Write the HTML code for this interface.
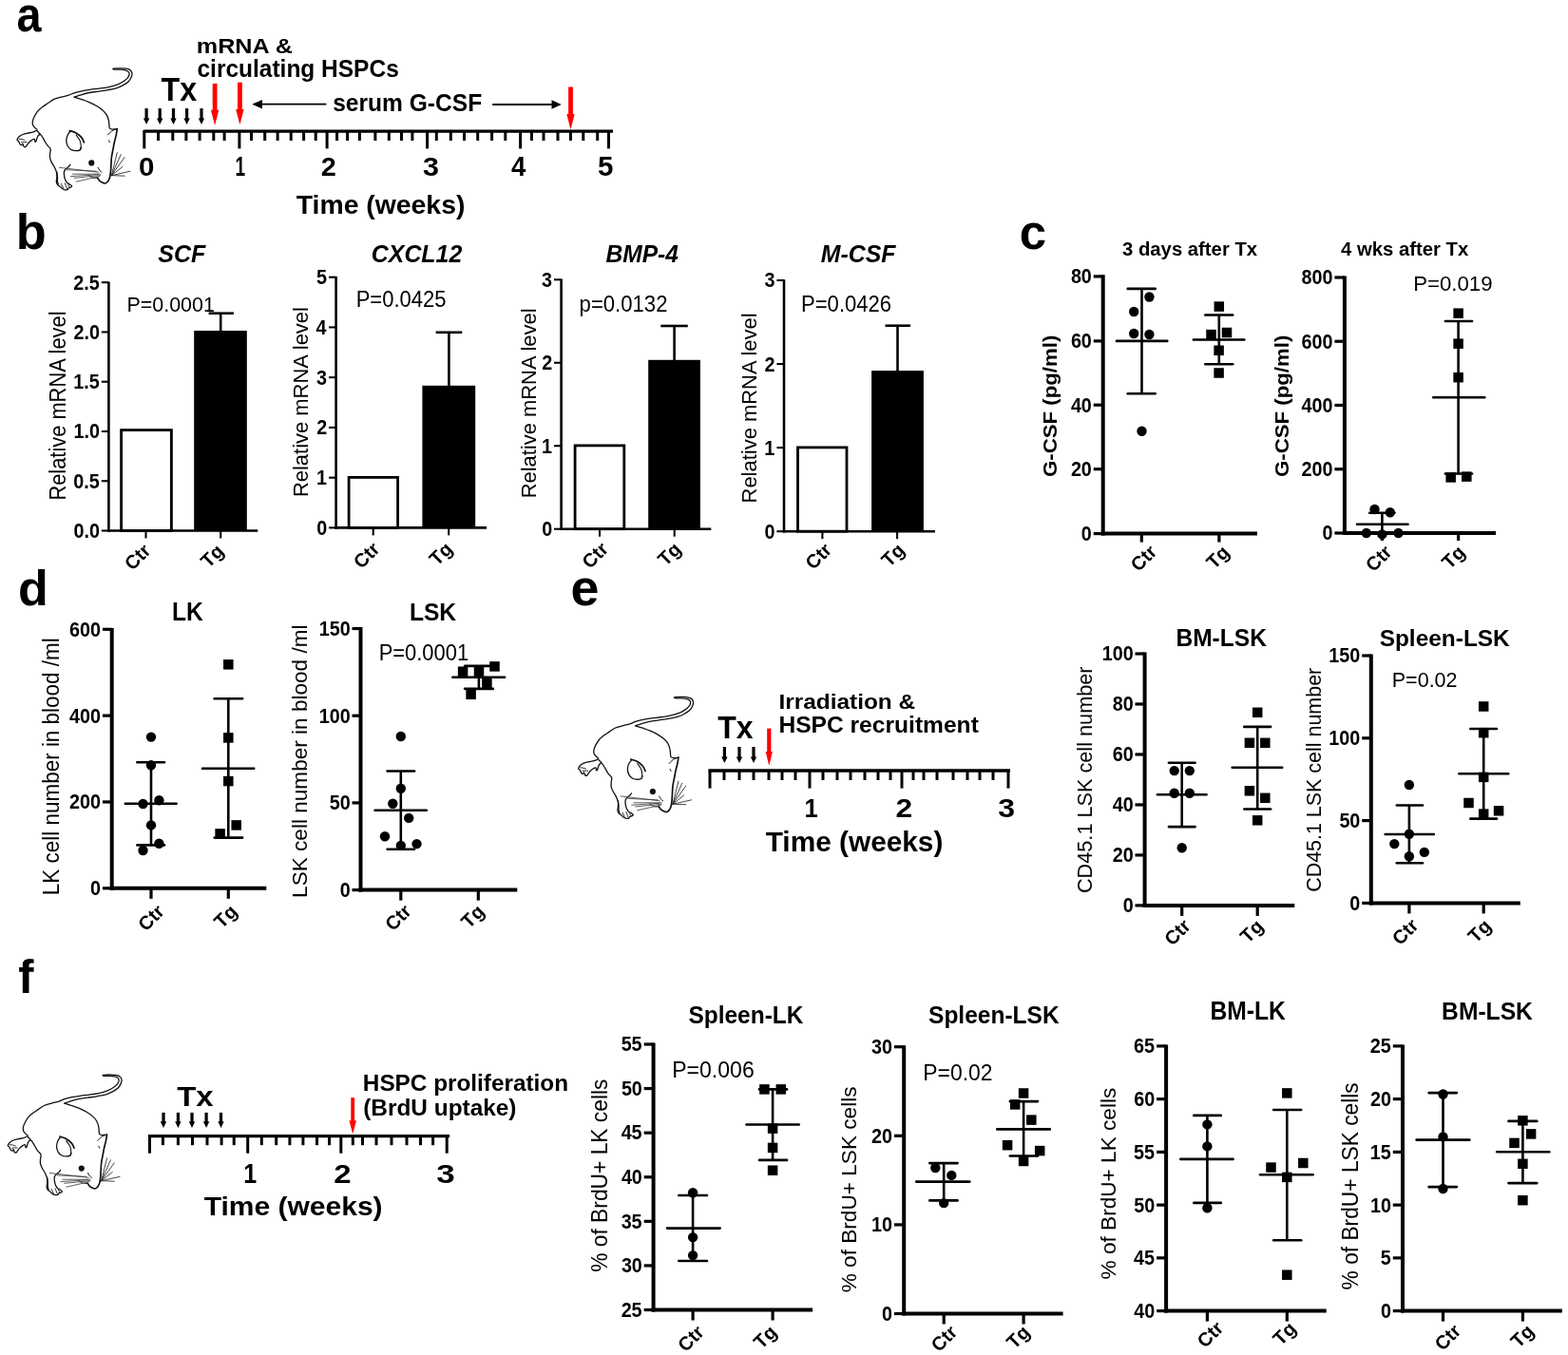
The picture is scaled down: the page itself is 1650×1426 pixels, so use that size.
<!DOCTYPE html>
<html><head><meta charset="utf-8"><title>Figure</title>
<style>html,body{margin:0;padding:0;background:#fff;overflow:hidden;}svg{display:block;}text{font-family:"Liberation Sans", Arial, Helvetica, sans-serif;fill:#000;}</style>
</head><body>
<svg width="1650" height="1426" viewBox="0 0 1650 1426">
<rect x="0" y="0" width="1650" height="1426" fill="#fff"/>
<text x="17.61" y="32.98" font-size="52.24" font-weight="bold" textLength="25.99" lengthAdjust="spacingAndGlyphs">a</text>
<text x="16.8" y="262.48" font-size="51.56" font-weight="bold" textLength="31.93" lengthAdjust="spacingAndGlyphs">b</text>
<text x="1072.69" y="262.48" font-size="52.42" font-weight="bold" textLength="28.38" lengthAdjust="spacingAndGlyphs">c</text>
<text x="18.92" y="636.89" font-size="51.29" font-weight="bold" textLength="31.81" lengthAdjust="spacingAndGlyphs">d</text>
<text x="600.58" y="637.17" font-size="52.79" font-weight="bold" textLength="29.93" lengthAdjust="spacingAndGlyphs">e</text>
<text x="19.27" y="1044.5" font-size="50.76" font-weight="bold" textLength="16.23" lengthAdjust="spacingAndGlyphs">f</text>
<g transform="translate(0,0) scale(1)">
<path d="M119.85,73.22 C120.91,73.22 124.26,73.12 126.23,73.22 C128.19,73.32 130.15,73.45 131.63,73.81 C133.1,74.17 134.33,74.66 135.06,75.38 C135.8,76.1 136.13,77.1 136.04,78.13 C135.96,79.16 135.55,80.34 134.57,81.56 C133.59,82.79 132.04,84.23 130.15,85.49 C128.27,86.75 125.9,88.11 123.28,89.12 C120.66,90.14 117.55,90.91 114.45,91.58 C111.34,92.25 107.9,92.69 104.63,93.15 C101.36,93.6 97.92,93.88 94.81,94.32 C91.7,94.77 88.76,95.22 85.98,95.8 C83.19,96.37 80.41,97.02 78.12,97.76 C75.83,98.5 74.52,99.48 72.23,100.22 C69.94,100.95 67,101.44 64.38,102.18 C61.76,102.92 58.81,103.57 56.52,104.63 C54.23,105.7 52.6,107.25 50.63,108.56 C48.67,109.87 46.54,111.1 44.74,112.49 C42.94,113.88 41.22,115.27 39.83,116.9 C38.44,118.54 37.3,120.59 36.4,122.3 C35.5,124.02 34.76,125.74 34.43,127.21 C34.11,128.69 34.11,129.99 34.43,131.14 C34.76,132.29 35.66,133.27 36.4,134.09 C37.13,134.9 38.44,135.72 38.85,136.05" fill="none" stroke="#111" stroke-width="1.3" stroke-linecap="round" stroke-linejoin="round"/>
<path d="M119.16,72.82 C119.22,72.71 118.05,72.3 119.55,72.14 C121.06,71.97 125.77,71.79 128.19,71.84 C130.61,71.89 132.53,72.04 134.08,72.43 C135.64,72.82 136.7,73.33 137.52,74.2 C138.34,75.07 138.91,76.41 138.99,77.64 C139.07,78.86 138.66,80.17 138.01,81.56 C137.35,82.95 136.54,84.59 135.06,85.98 C133.59,87.37 131.3,88.76 129.17,89.91 C127.05,91.05 125.08,92.03 122.3,92.85 C119.52,93.67 115.76,94.24 112.48,94.82 C109.21,95.39 105.94,95.8 102.67,96.29 C99.39,96.78 95.96,97.11 92.85,97.76 C89.74,98.42 86.47,99.48 84.01,100.22 C81.56,100.95 79.1,101.85 78.12,102.18" fill="none" stroke="#111" stroke-width="1.3" stroke-linecap="round" stroke-linejoin="round"/>
<path d="M78.12,102.18 C79.43,102.59 83.36,103.73 85.98,104.63 C88.59,105.53 91.21,106.43 93.83,107.58 C96.45,108.72 99.23,110.03 101.68,111.51 C104.14,112.98 106.76,114.78 108.56,116.41 C110.36,118.05 111.5,119.52 112.48,121.32 C113.46,123.12 114.04,125.41 114.45,127.21 C114.86,129.01 114.77,130.81 114.94,132.12 C115.1,133.43 114.86,134.41 115.43,135.07 C116,135.72 117.06,135.97 118.37,136.05 C119.68,136.13 122.46,135.64 123.28,135.56" fill="none" stroke="#111" stroke-width="1.3" stroke-linecap="round" stroke-linejoin="round"/>
<path d="M123.28,135.56 C123.12,136.62 122.79,139.57 122.3,141.94 C121.81,144.31 120.91,147.18 120.34,149.79 C119.76,152.41 119.35,155.03 118.86,157.65 C118.37,160.26 117.72,162.88 117.39,165.5 C117.06,168.12 117.06,170.74 116.9,173.35 C116.74,175.97 116.66,178.92 116.41,181.21 C116.16,183.5 115.92,185.46 115.43,187.1 C114.94,188.74 114.28,190.04 113.46,191.03 C112.65,192.01 111.5,192.83 110.52,192.99 C109.54,193.15 108.56,192.5 107.57,192.01 C106.59,191.52 105.45,190.86 104.63,190.04 C103.81,189.23 102.99,187.59 102.67,187.1" fill="none" stroke="#111" stroke-width="1.7" stroke-linecap="round" stroke-linejoin="round"/>
<path d="M113.46,141.94 C114.12,141.28 116.08,138.96 117.39,138.01 C118.7,137.06 120.66,136.54 121.32,136.25" fill="none" stroke="#111" stroke-width="1" stroke-linecap="round" stroke-linejoin="round"/>
<path d="M114.45,147.83 L115.43,149.79" fill="none" stroke="#111" stroke-width="1" stroke-linecap="round" stroke-linejoin="round"/>
<path d="M39.12,137.06 C38.37,137.39 36.31,138.51 34.63,139.02 C32.95,139.53 30.7,139.77 29.02,140.14 C27.34,140.51 25.84,140.79 24.53,141.26 C23.22,141.73 22.1,142.29 21.17,142.95 C20.24,143.6 19.45,144.44 18.93,145.19 C18.41,145.94 17.99,146.87 18.08,147.43 C18.17,147.99 18.97,147.81 19.49,148.56 C20,149.31 20.61,151.22 21.17,151.92 C21.73,152.62 22.38,152.85 22.85,152.76 C23.32,152.67 23.59,151.13 23.97,151.36 C24.34,151.59 24.63,153.6 25.1,154.16 C25.57,154.72 26.22,155 26.78,154.72 C27.34,154.44 27.81,153.32 28.46,152.48 C29.11,151.64 29.86,150.52 30.7,149.68 C31.54,148.84 32.57,147.99 33.51,147.43 C34.45,146.87 35.75,146.03 36.31,146.31 C36.87,146.59 36.59,148.75 36.87,149.12 C37.15,149.5 37.53,149.5 38,148.56 C38.47,147.62 39.03,144.73 39.68,143.51 C40.33,142.29 41.55,141.63 41.92,141.26" fill="none" stroke="#111" stroke-width="1.3" stroke-linecap="round" stroke-linejoin="round"/>
<path d="M20,146.2 C20.5,146.27 22,146.38 23,146.6 C24,146.82 25.5,147.35 26,147.5" fill="none" stroke="#111" stroke-width="0.9" stroke-linecap="round" stroke-linejoin="round"/>
<path d="M22.5,149.8 C23,149.75 24.58,149.53 25.5,149.5 C26.42,149.47 27.58,149.58 28,149.6" fill="none" stroke="#111" stroke-width="0.9" stroke-linecap="round" stroke-linejoin="round"/>
<path d="M39.34,138.01 C40.08,138.83 42.53,141.28 43.76,142.92 C44.99,144.56 45.72,146.19 46.71,147.83 C47.69,149.47 48.59,151.27 49.65,152.74 C50.71,154.21 52.6,155.19 53.09,156.67 C53.58,158.14 52.68,159.94 52.6,161.57 C52.51,163.21 52.27,164.85 52.6,166.48 C52.92,168.12 53.74,169.76 54.56,171.39 C55.38,173.03 56.69,174.66 57.51,176.3 C58.32,177.94 58.98,179.57 59.47,181.21 C59.96,182.84 60.29,184.48 60.45,186.12 C60.61,187.75 60.29,189.72 60.45,191.03 C60.61,192.34 61.27,193.48 61.43,193.97" fill="none" stroke="#111" stroke-width="1.3" stroke-linecap="round" stroke-linejoin="round"/>
<path d="M59.87,181.09 C59.87,182.02 59.96,185.01 59.87,186.69 C59.78,188.37 59.17,189.87 59.31,191.18 C59.45,192.49 60.06,193.7 60.71,194.54 C61.36,195.38 62.43,195.57 63.23,196.23 C64.02,196.88 64.73,197.91 65.48,198.47 C66.23,199.03 66.79,199.4 67.72,199.59 C68.65,199.78 70.33,199.87 71.08,199.59 C71.83,199.31 71.55,198.38 72.21,197.91 C72.86,197.44 74.45,197.16 75.01,196.79 C75.57,196.42 75.85,196.14 75.57,195.67 C75.29,195.2 74.17,194.54 73.33,193.98 C72.49,193.42 71.27,193.05 70.52,192.3 C69.77,191.55 69.31,190.62 68.84,189.5 C68.37,188.38 67.95,186.97 67.72,185.57 C67.49,184.17 67.25,182.31 67.44,181.09 C67.63,179.88 68.05,179.22 68.84,178.28 C69.64,177.34 71.37,176.32 72.21,175.48 C73.05,174.64 73.61,173.61 73.89,173.24" fill="none" stroke="#111" stroke-width="1.3" stroke-linecap="round" stroke-linejoin="round"/>
<path d="M64.36,193.42 C64.57,193.82 65.23,195.05 65.6,195.8 C65.97,196.55 66.43,197.56 66.6,197.91" fill="none" stroke="#111" stroke-width="0.9" stroke-linecap="round" stroke-linejoin="round"/>
<path d="M68.28,192.86 C68.48,193.35 69.13,194.87 69.5,195.8 C69.87,196.74 70.35,198.03 70.52,198.47" fill="none" stroke="#111" stroke-width="0.9" stroke-linecap="round" stroke-linejoin="round"/>
<path d="M71.65,193.98 C71.81,194.28 72.32,195.24 72.6,195.8 C72.88,196.36 73.21,197.09 73.33,197.35" fill="none" stroke="#111" stroke-width="0.9" stroke-linecap="round" stroke-linejoin="round"/>
<path d="M74.19,138.01 C73.7,138.67 71.99,140.3 71.25,141.94 C70.51,143.58 69.78,145.87 69.78,147.83 C69.78,149.79 70.35,152.08 71.25,153.72 C72.15,155.36 73.7,156.83 75.18,157.65 C76.65,158.47 78.61,158.6 80.09,158.63 C81.56,158.66 83.11,158.42 84.01,157.84 C84.91,157.27 85.24,155.63 85.48,155.19" fill="none" stroke="#111" stroke-width="1.3" stroke-linecap="round" stroke-linejoin="round"/>
<path d="M73.21,137.52 C74.36,137.93 77.96,138.75 80.09,139.98 C82.21,141.2 84.58,143.25 85.98,144.88 C87.37,146.52 88.02,148.97 88.43,149.79" fill="none" stroke="#111" stroke-width="1.7" stroke-linecap="round" stroke-linejoin="round"/>
<path d="M80.09,141.94 C80.74,142.92 83.16,145.87 84.01,147.83 C84.86,149.79 85.11,152.05 85.19,153.72 C85.27,155.39 84.62,157.16 84.5,157.84" fill="none" stroke="#111" stroke-width="1.1" stroke-linecap="round" stroke-linejoin="round"/>
<circle cx="96.28" cy="171.39" r="3.1" fill="#111"/>
<path d="M103.16,176.3 C103.48,176.87 104.47,178.92 105.12,179.74 C105.77,180.55 106.76,180.96 107.08,181.21" fill="none" stroke="#111" stroke-width="1" stroke-linecap="round" stroke-linejoin="round"/>
<path d="M92.85,184.15 C93.67,184.64 96.12,186.58 97.76,187.1 C99.39,187.62 101.85,187.26 102.67,187.3" fill="none" stroke="#111" stroke-width="0.9" stroke-linecap="round" stroke-linejoin="round"/>
<line x1="117.39" y1="184.64" x2="123.28" y2="160.59" stroke="#222" stroke-width="0.85" stroke-linecap="round"/>
<line x1="117.39" y1="184.64" x2="127.21" y2="162.56" stroke="#222" stroke-width="0.85" stroke-linecap="round"/>
<line x1="117.39" y1="184.64" x2="131.14" y2="165.5" stroke="#222" stroke-width="0.85" stroke-linecap="round"/>
<line x1="117.39" y1="184.64" x2="129.17" y2="175.32" stroke="#222" stroke-width="0.85" stroke-linecap="round"/>
<line x1="117.39" y1="184.64" x2="137.03" y2="180.23" stroke="#222" stroke-width="0.85" stroke-linecap="round"/>
<line x1="117.39" y1="184.64" x2="131.14" y2="185.14" stroke="#222" stroke-width="0.85" stroke-linecap="round"/>
<line x1="103.65" y1="181.21" x2="62.41" y2="176.3" stroke="#333" stroke-width="0.8" stroke-linecap="round"/>
<line x1="105.61" y1="183.17" x2="76.16" y2="183.17" stroke="#333" stroke-width="0.8" stroke-linecap="round"/>
<line x1="105.61" y1="184.64" x2="78.12" y2="187.3" stroke="#333" stroke-width="0.8" stroke-linecap="round"/>
<line x1="104.63" y1="185.63" x2="80.09" y2="191.22" stroke="#333" stroke-width="0.8" stroke-linecap="round"/>
<line x1="101.68" y1="180.23" x2="70.27" y2="178.75" stroke="#333" stroke-width="0.8" stroke-linecap="round"/>
<line x1="103.65" y1="183.66" x2="74.19" y2="185.63" stroke="#333" stroke-width="0.8" stroke-linecap="round"/>
</g>
<line x1="151.5" y1="138.1" x2="645" y2="138.1" stroke="#000" stroke-width="3.3" stroke-linecap="butt"/>
<line x1="151.8" y1="137" x2="151.8" y2="156.4" stroke="#000" stroke-width="3" stroke-linecap="butt"/>
<line x1="251.9" y1="137" x2="251.9" y2="156.4" stroke="#000" stroke-width="3" stroke-linecap="butt"/>
<line x1="344.1" y1="137" x2="344.1" y2="156.4" stroke="#000" stroke-width="3" stroke-linecap="butt"/>
<line x1="449.6" y1="137" x2="449.6" y2="156.4" stroke="#000" stroke-width="3" stroke-linecap="butt"/>
<line x1="547.6" y1="137" x2="547.6" y2="156.4" stroke="#000" stroke-width="3" stroke-linecap="butt"/>
<line x1="640.5" y1="137" x2="640.5" y2="156.4" stroke="#000" stroke-width="3" stroke-linecap="butt"/>
<line x1="166.5" y1="137" x2="166.5" y2="148" stroke="#000" stroke-width="3" stroke-linecap="butt"/>
<line x1="181.8" y1="137" x2="181.8" y2="148" stroke="#000" stroke-width="3" stroke-linecap="butt"/>
<line x1="195.9" y1="137" x2="195.9" y2="148" stroke="#000" stroke-width="3" stroke-linecap="butt"/>
<line x1="210.1" y1="137" x2="210.1" y2="148" stroke="#000" stroke-width="3" stroke-linecap="butt"/>
<line x1="224.8" y1="137" x2="224.8" y2="148" stroke="#000" stroke-width="3" stroke-linecap="butt"/>
<line x1="236.1" y1="137" x2="236.1" y2="148" stroke="#000" stroke-width="3" stroke-linecap="butt"/>
<line x1="264.5" y1="137" x2="264.5" y2="148" stroke="#000" stroke-width="3" stroke-linecap="butt"/>
<line x1="278.7" y1="137" x2="278.7" y2="148" stroke="#000" stroke-width="3" stroke-linecap="butt"/>
<line x1="292.1" y1="137" x2="292.1" y2="148" stroke="#000" stroke-width="3" stroke-linecap="butt"/>
<line x1="306.2" y1="137" x2="306.2" y2="148" stroke="#000" stroke-width="3" stroke-linecap="butt"/>
<line x1="319.6" y1="137" x2="319.6" y2="148" stroke="#000" stroke-width="3" stroke-linecap="butt"/>
<line x1="332.2" y1="137" x2="332.2" y2="148" stroke="#000" stroke-width="3" stroke-linecap="butt"/>
<line x1="354.6" y1="137" x2="354.6" y2="148" stroke="#000" stroke-width="3" stroke-linecap="butt"/>
<line x1="365.6" y1="137" x2="365.6" y2="148" stroke="#000" stroke-width="3" stroke-linecap="butt"/>
<line x1="378.4" y1="137" x2="378.4" y2="148" stroke="#000" stroke-width="3" stroke-linecap="butt"/>
<line x1="394.9" y1="137" x2="394.9" y2="148" stroke="#000" stroke-width="3" stroke-linecap="butt"/>
<line x1="409.3" y1="137" x2="409.3" y2="148" stroke="#000" stroke-width="3" stroke-linecap="butt"/>
<line x1="422.5" y1="137" x2="422.5" y2="148" stroke="#000" stroke-width="3" stroke-linecap="butt"/>
<line x1="433.9" y1="137" x2="433.9" y2="148" stroke="#000" stroke-width="3" stroke-linecap="butt"/>
<line x1="459.3" y1="137" x2="459.3" y2="148" stroke="#000" stroke-width="3" stroke-linecap="butt"/>
<line x1="474.3" y1="137" x2="474.3" y2="148" stroke="#000" stroke-width="3" stroke-linecap="butt"/>
<line x1="488.5" y1="137" x2="488.5" y2="148" stroke="#000" stroke-width="3" stroke-linecap="butt"/>
<line x1="502.7" y1="137" x2="502.7" y2="148" stroke="#000" stroke-width="3" stroke-linecap="butt"/>
<line x1="517.6" y1="137" x2="517.6" y2="148" stroke="#000" stroke-width="3" stroke-linecap="butt"/>
<line x1="531.8" y1="137" x2="531.8" y2="148" stroke="#000" stroke-width="3" stroke-linecap="butt"/>
<line x1="559.4" y1="137" x2="559.4" y2="148" stroke="#000" stroke-width="3" stroke-linecap="butt"/>
<line x1="572" y1="137" x2="572" y2="148" stroke="#000" stroke-width="3" stroke-linecap="butt"/>
<line x1="587" y1="137" x2="587" y2="148" stroke="#000" stroke-width="3" stroke-linecap="butt"/>
<line x1="600.4" y1="137" x2="600.4" y2="148" stroke="#000" stroke-width="3" stroke-linecap="butt"/>
<line x1="613.8" y1="137" x2="613.8" y2="148" stroke="#000" stroke-width="3" stroke-linecap="butt"/>
<line x1="628.7" y1="137" x2="628.7" y2="148" stroke="#000" stroke-width="3" stroke-linecap="butt"/>
<text x="145.99" y="184.6" font-size="28.24" font-weight="bold" textLength="16.45" lengthAdjust="spacingAndGlyphs">0</text>
<text x="247.51" y="184.6" font-size="28.65" font-weight="bold" textLength="10.59" lengthAdjust="spacingAndGlyphs">1</text>
<text x="337.86" y="184.6" font-size="28.24" font-weight="bold" textLength="16.05" lengthAdjust="spacingAndGlyphs">2</text>
<text x="445.12" y="184.6" font-size="28.24" font-weight="bold" textLength="16.91" lengthAdjust="spacingAndGlyphs">3</text>
<text x="537.89" y="184.6" font-size="28.65" font-weight="bold" textLength="15.31" lengthAdjust="spacingAndGlyphs">4</text>
<text x="629.11" y="184.6" font-size="28.65" font-weight="bold" textLength="16.46" lengthAdjust="spacingAndGlyphs">5</text>
<text x="311.72" y="225" font-size="28" font-weight="bold" textLength="177.63" lengthAdjust="spacingAndGlyphs">Time (weeks)</text>
<text x="169.58" y="105.6" font-size="34.33" font-weight="bold" textLength="37.65" lengthAdjust="spacingAndGlyphs">Tx</text>
<text x="206.76" y="55.9" font-size="22.09" font-weight="bold" textLength="101.26" lengthAdjust="spacingAndGlyphs">mRNA &amp;</text>
<text x="207.48" y="81" font-size="24.97" font-weight="bold" textLength="212.28" lengthAdjust="spacingAndGlyphs">circulating HSPCs</text>
<text x="350.14" y="116.8" font-size="25.52" font-weight="bold" textLength="157.03" lengthAdjust="spacingAndGlyphs">serum G-CSF</text>
<rect x="152.5" y="114.1" width="3.2" height="11.2" fill="#000"/>
<polygon points="150.9,124.5 157.3,124.5 154.1,131.1" fill="#000"/>
<rect x="166.6" y="114.1" width="3.2" height="11.2" fill="#000"/>
<polygon points="165,124.5 171.4,124.5 168.2,131.1" fill="#000"/>
<rect x="180.9" y="114.1" width="3.2" height="11.2" fill="#000"/>
<polygon points="179.3,124.5 185.7,124.5 182.5,131.1" fill="#000"/>
<rect x="195" y="114.1" width="3.2" height="11.2" fill="#000"/>
<polygon points="193.4,124.5 199.8,124.5 196.6,131.1" fill="#000"/>
<rect x="210.4" y="114.1" width="3.2" height="11.2" fill="#000"/>
<polygon points="208.8,124.5 215.2,124.5 212,131.1" fill="#000"/>
<rect x="223.7" y="87.9" width="4.8" height="28.8" fill="#f00"/>
<polygon points="221.9,115.7 230.3,115.7 226.7,129.7 226.1,131.7 225.5,129.7" fill="#f00"/>
<rect x="250" y="86.7" width="4.8" height="29.2" fill="#f00"/>
<polygon points="248.2,114.9 256.6,114.9 253,128.9 252.4,130.9 251.8,128.9" fill="#f00"/>
<rect x="598.1" y="91.5" width="4.8" height="29.5" fill="#f00"/>
<polygon points="596.3,120 604.7,120 601.1,134 600.5,136 599.9,134" fill="#f00"/>
<line x1="268" y1="109.7" x2="343.4" y2="109.7" stroke="#000" stroke-width="1.8" stroke-linecap="butt"/>
<polygon points="265.3,109.7 276,104.9 276,114.5" fill="#000"/>
<line x1="518.2" y1="110" x2="588" y2="110" stroke="#000" stroke-width="1.8" stroke-linecap="butt"/>
<polygon points="590.8,110 580.5,105.3 580.5,114.7" fill="#000"/>
<rect x="127.6" y="452.6" width="52.8" height="105.9" fill="#fff" stroke="#000" stroke-width="2.8"/>
<line x1="232.2" y1="329.7" x2="232.2" y2="349" stroke="#000" stroke-width="2.6" stroke-linecap="butt"/>
<line x1="219.6" y1="329.7" x2="245.9" y2="329.7" stroke="#000" stroke-width="2.6" stroke-linecap="butt"/>
<rect x="204.2" y="348" width="55.6" height="210.5" fill="#000"/>
<line x1="114.4" y1="296.5" x2="114.4" y2="559.8" stroke="#000" stroke-width="2.6" stroke-linecap="butt"/>
<line x1="113.1" y1="558.5" x2="271.3" y2="558.5" stroke="#000" stroke-width="2.6" stroke-linecap="butt"/>
<line x1="106.8" y1="558.5" x2="114.4" y2="558.5" stroke="#000" stroke-width="2.08" stroke-linecap="butt"/>
<text x="77.45" y="565.89" font-size="21.5" font-weight="bold" textLength="27.5" lengthAdjust="spacingAndGlyphs">0.0</text>
<line x1="106.8" y1="506.24" x2="114.4" y2="506.24" stroke="#000" stroke-width="2.08" stroke-linecap="butt"/>
<text x="77.2" y="513.63" font-size="21.5" font-weight="bold" textLength="27.5" lengthAdjust="spacingAndGlyphs">0.5</text>
<line x1="106.8" y1="453.98" x2="114.4" y2="453.98" stroke="#000" stroke-width="2.08" stroke-linecap="butt"/>
<text x="77.45" y="461.37" font-size="21.5" font-weight="bold" textLength="27.5" lengthAdjust="spacingAndGlyphs">1.0</text>
<line x1="106.8" y1="401.72" x2="114.4" y2="401.72" stroke="#000" stroke-width="2.08" stroke-linecap="butt"/>
<text x="77.2" y="409" font-size="21.5" font-weight="bold" textLength="27.5" lengthAdjust="spacingAndGlyphs">1.5</text>
<line x1="106.8" y1="349.46" x2="114.4" y2="349.46" stroke="#000" stroke-width="2.08" stroke-linecap="butt"/>
<text x="77.45" y="356.85" font-size="21.5" font-weight="bold" textLength="27.5" lengthAdjust="spacingAndGlyphs">2.0</text>
<line x1="106.8" y1="297.2" x2="114.4" y2="297.2" stroke="#000" stroke-width="2.08" stroke-linecap="butt"/>
<text x="77.2" y="304.59" font-size="21.5" font-weight="bold" textLength="27.5" lengthAdjust="spacingAndGlyphs">2.5</text>
<line x1="153.5" y1="558.5" x2="153.5" y2="566.5" stroke="#000" stroke-width="2.08" stroke-linecap="butt"/>
<line x1="232.2" y1="558.5" x2="232.2" y2="566.5" stroke="#000" stroke-width="2.08" stroke-linecap="butt"/>
<text transform="translate(139.27,601.26) rotate(-45)" x="0" y="0" font-size="20.1" font-weight="bold" textLength="29.03" lengthAdjust="spacingAndGlyphs">Ctr</text>
<text transform="translate(219.42,598.61) rotate(-45)" x="0" y="0" font-size="20.1" font-weight="bold" textLength="24.56" lengthAdjust="spacingAndGlyphs">Tg</text>
<text x="166.25" y="275.8" font-size="25.66" font-weight="bold" font-style="italic" textLength="49.89" lengthAdjust="spacingAndGlyphs">SCF</text>
<text x="133.49" y="328" font-size="22.51" textLength="92.38" lengthAdjust="spacingAndGlyphs">P=0.0001</text>
<text transform="translate(69.47,0) rotate(-90)" x="-526.55" y="0" font-size="23.27" textLength="199.06" lengthAdjust="spacingAndGlyphs">Relative mRNA level</text>
<rect x="367.1" y="502.4" width="51.5" height="53" fill="#fff" stroke="#000" stroke-width="2.8"/>
<line x1="472.4" y1="349.8" x2="472.4" y2="406.8" stroke="#000" stroke-width="2.6" stroke-linecap="butt"/>
<line x1="458.6" y1="349.8" x2="486.3" y2="349.8" stroke="#000" stroke-width="2.6" stroke-linecap="butt"/>
<rect x="444.4" y="405.8" width="55.8" height="149.6" fill="#000"/>
<line x1="353.6" y1="291" x2="353.6" y2="556.7" stroke="#000" stroke-width="2.6" stroke-linecap="butt"/>
<line x1="352.3" y1="555.4" x2="512" y2="555.4" stroke="#000" stroke-width="2.6" stroke-linecap="butt"/>
<line x1="346" y1="555.4" x2="353.6" y2="555.4" stroke="#000" stroke-width="2.08" stroke-linecap="butt"/>
<text x="333.16" y="562.79" font-size="21.5" font-weight="bold" textLength="11" lengthAdjust="spacingAndGlyphs">0</text>
<line x1="346" y1="502.66" x2="353.6" y2="502.66" stroke="#000" stroke-width="2.08" stroke-linecap="butt"/>
<text x="332.92" y="510.05" font-size="21.5" font-weight="bold" textLength="11" lengthAdjust="spacingAndGlyphs">1</text>
<line x1="346" y1="449.92" x2="353.6" y2="449.92" stroke="#000" stroke-width="2.08" stroke-linecap="butt"/>
<text x="333.16" y="457.42" font-size="21.5" font-weight="bold" textLength="11" lengthAdjust="spacingAndGlyphs">2</text>
<line x1="346" y1="397.18" x2="353.6" y2="397.18" stroke="#000" stroke-width="2.08" stroke-linecap="butt"/>
<text x="333.06" y="404.54" font-size="21.5" font-weight="bold" textLength="11" lengthAdjust="spacingAndGlyphs">3</text>
<line x1="346" y1="344.44" x2="353.6" y2="344.44" stroke="#000" stroke-width="2.08" stroke-linecap="butt"/>
<text x="332.47" y="351.83" font-size="21.5" font-weight="bold" textLength="11" lengthAdjust="spacingAndGlyphs">4</text>
<line x1="346" y1="291.7" x2="353.6" y2="291.7" stroke="#000" stroke-width="2.08" stroke-linecap="butt"/>
<text x="332.92" y="298.98" font-size="21.5" font-weight="bold" textLength="11" lengthAdjust="spacingAndGlyphs">5</text>
<line x1="392.7" y1="555.4" x2="392.7" y2="563.4" stroke="#000" stroke-width="2.08" stroke-linecap="butt"/>
<line x1="472.2" y1="555.4" x2="472.2" y2="563.4" stroke="#000" stroke-width="2.08" stroke-linecap="butt"/>
<text transform="translate(380.27,599.46) rotate(-45)" x="0" y="0" font-size="20.1" font-weight="bold" textLength="29.03" lengthAdjust="spacingAndGlyphs">Ctr</text>
<text transform="translate(460.02,596.31) rotate(-45)" x="0" y="0" font-size="20.1" font-weight="bold" textLength="24.56" lengthAdjust="spacingAndGlyphs">Tg</text>
<text x="390.82" y="276" font-size="26.24" font-weight="bold" font-style="italic" textLength="95.42" lengthAdjust="spacingAndGlyphs">CXCL12</text>
<text x="374.64" y="322.9" font-size="23.23" textLength="94.99" lengthAdjust="spacingAndGlyphs">P=0.0425</text>
<text transform="translate(323.78,0) rotate(-90)" x="-523.06" y="0" font-size="22.18" textLength="199.97" lengthAdjust="spacingAndGlyphs">Relative mRNA level</text>
<rect x="605.1" y="468.9" width="51.7" height="87.8" fill="#fff" stroke="#000" stroke-width="2.8"/>
<line x1="709.6" y1="343" x2="709.6" y2="379.8" stroke="#000" stroke-width="2.6" stroke-linecap="butt"/>
<line x1="695.3" y1="343" x2="723.8" y2="343" stroke="#000" stroke-width="2.6" stroke-linecap="butt"/>
<rect x="682.2" y="378.8" width="54.7" height="177.9" fill="#000"/>
<line x1="590.6" y1="293.6" x2="590.6" y2="558" stroke="#000" stroke-width="2.6" stroke-linecap="butt"/>
<line x1="589.3" y1="556.7" x2="748.3" y2="556.7" stroke="#000" stroke-width="2.6" stroke-linecap="butt"/>
<line x1="583" y1="556.7" x2="590.6" y2="556.7" stroke="#000" stroke-width="2.08" stroke-linecap="butt"/>
<text x="570.16" y="564.09" font-size="21.5" font-weight="bold" textLength="11" lengthAdjust="spacingAndGlyphs">0</text>
<line x1="583" y1="469.23" x2="590.6" y2="469.23" stroke="#000" stroke-width="2.08" stroke-linecap="butt"/>
<text x="569.92" y="476.62" font-size="21.5" font-weight="bold" textLength="11" lengthAdjust="spacingAndGlyphs">1</text>
<line x1="583" y1="381.77" x2="590.6" y2="381.77" stroke="#000" stroke-width="2.08" stroke-linecap="butt"/>
<text x="570.16" y="389.26" font-size="21.5" font-weight="bold" textLength="11" lengthAdjust="spacingAndGlyphs">2</text>
<line x1="583" y1="294.3" x2="590.6" y2="294.3" stroke="#000" stroke-width="2.08" stroke-linecap="butt"/>
<text x="570.06" y="301.66" font-size="21.5" font-weight="bold" textLength="11" lengthAdjust="spacingAndGlyphs">3</text>
<line x1="631" y1="556.7" x2="631" y2="564.7" stroke="#000" stroke-width="2.08" stroke-linecap="butt"/>
<line x1="709.7" y1="556.7" x2="709.7" y2="564.7" stroke="#000" stroke-width="2.08" stroke-linecap="butt"/>
<text transform="translate(620.67,599.46) rotate(-45)" x="0" y="0" font-size="20.1" font-weight="bold" textLength="29.03" lengthAdjust="spacingAndGlyphs">Ctr</text>
<text transform="translate(700.62,596.61) rotate(-45)" x="0" y="0" font-size="20.1" font-weight="bold" textLength="24.56" lengthAdjust="spacingAndGlyphs">Tg</text>
<text x="637.47" y="275.9" font-size="25.75" font-weight="bold" font-style="italic" textLength="76.43" lengthAdjust="spacingAndGlyphs">BMP-4</text>
<text x="609.62" y="328.2" font-size="23.66" textLength="92.86" lengthAdjust="spacingAndGlyphs">p=0.0132</text>
<text transform="translate(563.78,0) rotate(-90)" x="-524.36" y="0" font-size="22.18" textLength="199.97" lengthAdjust="spacingAndGlyphs">Relative mRNA level</text>
<rect x="839.5" y="470.9" width="51.5" height="88.3" fill="#fff" stroke="#000" stroke-width="2.8"/>
<line x1="944.5" y1="342.7" x2="944.5" y2="391.1" stroke="#000" stroke-width="2.6" stroke-linecap="butt"/>
<line x1="931.5" y1="342.7" x2="958" y2="342.7" stroke="#000" stroke-width="2.6" stroke-linecap="butt"/>
<rect x="917.1" y="390.1" width="54.8" height="169.1" fill="#000"/>
<line x1="825" y1="294.3" x2="825" y2="560.5" stroke="#000" stroke-width="2.6" stroke-linecap="butt"/>
<line x1="823.7" y1="559.2" x2="984" y2="559.2" stroke="#000" stroke-width="2.6" stroke-linecap="butt"/>
<line x1="817.4" y1="559.2" x2="825" y2="559.2" stroke="#000" stroke-width="2.08" stroke-linecap="butt"/>
<text x="804.56" y="566.59" font-size="21.5" font-weight="bold" textLength="11" lengthAdjust="spacingAndGlyphs">0</text>
<line x1="817.4" y1="471.13" x2="825" y2="471.13" stroke="#000" stroke-width="2.08" stroke-linecap="butt"/>
<text x="804.32" y="478.52" font-size="21.5" font-weight="bold" textLength="11" lengthAdjust="spacingAndGlyphs">1</text>
<line x1="817.4" y1="383.07" x2="825" y2="383.07" stroke="#000" stroke-width="2.08" stroke-linecap="butt"/>
<text x="804.56" y="390.56" font-size="21.5" font-weight="bold" textLength="11" lengthAdjust="spacingAndGlyphs">2</text>
<line x1="817.4" y1="295" x2="825" y2="295" stroke="#000" stroke-width="2.08" stroke-linecap="butt"/>
<text x="804.46" y="302.36" font-size="21.5" font-weight="bold" textLength="11" lengthAdjust="spacingAndGlyphs">3</text>
<line x1="865.4" y1="559.2" x2="865.4" y2="567.2" stroke="#000" stroke-width="2.08" stroke-linecap="butt"/>
<line x1="944.1" y1="559.2" x2="944.1" y2="567.2" stroke="#000" stroke-width="2.08" stroke-linecap="butt"/>
<text transform="translate(855.87,600.46) rotate(-45)" x="0" y="0" font-size="20.1" font-weight="bold" textLength="29.03" lengthAdjust="spacingAndGlyphs">Ctr</text>
<text transform="translate(935.82,597.61) rotate(-45)" x="0" y="0" font-size="20.1" font-weight="bold" textLength="24.56" lengthAdjust="spacingAndGlyphs">Tg</text>
<text x="863.86" y="275.9" font-size="25.38" font-weight="bold" font-style="italic" textLength="78.7" lengthAdjust="spacingAndGlyphs">M-CSF</text>
<text x="843.04" y="328.2" font-size="23.66" textLength="95.05" lengthAdjust="spacingAndGlyphs">P=0.0426</text>
<text transform="translate(796.28,0) rotate(-90)" x="-529.46" y="0" font-size="22.45" textLength="200.07" lengthAdjust="spacingAndGlyphs">Relative mRNA level</text>
<line x1="1160.7" y1="289.2" x2="1160.7" y2="563.6" stroke="#000" stroke-width="4" stroke-linecap="butt"/>
<line x1="1158.7" y1="561.6" x2="1323" y2="561.6" stroke="#000" stroke-width="4" stroke-linecap="butt"/>
<line x1="1150.7" y1="561.6" x2="1160.7" y2="561.6" stroke="#000" stroke-width="3.2" stroke-linecap="butt"/>
<text x="1137.86" y="568.99" font-size="21.5" font-weight="bold" textLength="11" lengthAdjust="spacingAndGlyphs">0</text>
<line x1="1150.7" y1="493.7" x2="1160.7" y2="493.7" stroke="#000" stroke-width="3.2" stroke-linecap="butt"/>
<text x="1126.89" y="501.09" font-size="21.5" font-weight="bold" textLength="22" lengthAdjust="spacingAndGlyphs">20</text>
<line x1="1150.7" y1="426.2" x2="1160.7" y2="426.2" stroke="#000" stroke-width="3.2" stroke-linecap="butt"/>
<text x="1126.89" y="433.59" font-size="21.5" font-weight="bold" textLength="22" lengthAdjust="spacingAndGlyphs">40</text>
<line x1="1150.7" y1="358.9" x2="1160.7" y2="358.9" stroke="#000" stroke-width="3.2" stroke-linecap="butt"/>
<text x="1126.89" y="366.29" font-size="21.5" font-weight="bold" textLength="22" lengthAdjust="spacingAndGlyphs">60</text>
<line x1="1150.7" y1="290.9" x2="1160.7" y2="290.9" stroke="#000" stroke-width="3.2" stroke-linecap="butt"/>
<text x="1126.89" y="298.29" font-size="21.5" font-weight="bold" textLength="22" lengthAdjust="spacingAndGlyphs">80</text>
<line x1="1201.3" y1="561.6" x2="1201.3" y2="570.6" stroke="#000" stroke-width="3.2" stroke-linecap="butt"/>
<line x1="1282.9" y1="561.6" x2="1282.9" y2="570.6" stroke="#000" stroke-width="3.2" stroke-linecap="butt"/>
<text transform="translate(1197.92,602.46) rotate(-45)" x="0" y="0" font-size="20.1" font-weight="bold" textLength="29.03" lengthAdjust="spacingAndGlyphs">Ctr</text>
<text transform="translate(1277.67,599.81) rotate(-45)" x="0" y="0" font-size="20.1" font-weight="bold" textLength="24.56" lengthAdjust="spacingAndGlyphs">Tg</text>
<line x1="1174.9" y1="358.9" x2="1228.3" y2="358.9" stroke="#000" stroke-width="2.6" stroke-linecap="round"/>
<line x1="1201.5" y1="303.9" x2="1201.5" y2="414.3" stroke="#000" stroke-width="2.6" stroke-linecap="butt"/>
<line x1="1186.7" y1="303.9" x2="1215.7" y2="303.9" stroke="#000" stroke-width="2.6" stroke-linecap="round"/>
<line x1="1186.7" y1="414.3" x2="1215.7" y2="414.3" stroke="#000" stroke-width="2.6" stroke-linecap="round"/>
<line x1="1255.9" y1="357.5" x2="1309.3" y2="357.5" stroke="#000" stroke-width="2.6" stroke-linecap="round"/>
<line x1="1282.8" y1="331.5" x2="1282.8" y2="383.3" stroke="#000" stroke-width="2.6" stroke-linecap="butt"/>
<line x1="1268.3" y1="331.5" x2="1297.2" y2="331.5" stroke="#000" stroke-width="2.6" stroke-linecap="round"/>
<line x1="1268.3" y1="383.3" x2="1297.2" y2="383.3" stroke="#000" stroke-width="2.6" stroke-linecap="round"/>
<circle cx="1193.2" cy="328" r="5.2" fill="#000"/>
<circle cx="1209.4" cy="312.5" r="5.2" fill="#000"/>
<circle cx="1193.2" cy="351" r="5.2" fill="#000"/>
<circle cx="1209.4" cy="352" r="5.2" fill="#000"/>
<circle cx="1201.5" cy="453.8" r="5.2" fill="#000"/>
<rect x="1277.55" y="317.35" width="10.5" height="10.5" fill="#000"/>
<rect x="1269.25" y="346.85" width="10.5" height="10.5" fill="#000"/>
<rect x="1285.75" y="344.75" width="10.5" height="10.5" fill="#000"/>
<rect x="1277.35" y="363.55" width="10.5" height="10.5" fill="#000"/>
<rect x="1277.35" y="387.25" width="10.5" height="10.5" fill="#000"/>
<text x="1181.04" y="268.9" font-size="20" font-weight="bold" textLength="142.08" lengthAdjust="spacingAndGlyphs">3 days after Tx</text>
<text transform="translate(1112.03,0) rotate(-90)" x="-501.99" y="0" font-size="21.01" font-weight="bold" textLength="149.27" lengthAdjust="spacingAndGlyphs">G-CSF (pg/ml)</text>
<line x1="1414.9" y1="290.6" x2="1414.9" y2="563" stroke="#000" stroke-width="4" stroke-linecap="butt"/>
<line x1="1412.9" y1="561" x2="1574" y2="561" stroke="#000" stroke-width="4" stroke-linecap="butt"/>
<line x1="1404.4" y1="561" x2="1414.9" y2="561" stroke="#000" stroke-width="3.2" stroke-linecap="butt"/>
<text x="1391.56" y="568.39" font-size="21.5" font-weight="bold" textLength="11" lengthAdjust="spacingAndGlyphs">0</text>
<line x1="1404.4" y1="493.75" x2="1414.9" y2="493.75" stroke="#000" stroke-width="3.2" stroke-linecap="butt"/>
<text x="1369.56" y="501.14" font-size="21.5" font-weight="bold" textLength="33" lengthAdjust="spacingAndGlyphs">200</text>
<line x1="1404.4" y1="426.5" x2="1414.9" y2="426.5" stroke="#000" stroke-width="3.2" stroke-linecap="butt"/>
<text x="1369.56" y="433.89" font-size="21.5" font-weight="bold" textLength="33" lengthAdjust="spacingAndGlyphs">400</text>
<line x1="1404.4" y1="359.25" x2="1414.9" y2="359.25" stroke="#000" stroke-width="3.2" stroke-linecap="butt"/>
<text x="1369.56" y="366.64" font-size="21.5" font-weight="bold" textLength="33" lengthAdjust="spacingAndGlyphs">600</text>
<line x1="1404.4" y1="292" x2="1414.9" y2="292" stroke="#000" stroke-width="3.2" stroke-linecap="butt"/>
<text x="1369.56" y="299.39" font-size="21.5" font-weight="bold" textLength="33" lengthAdjust="spacingAndGlyphs">800</text>
<line x1="1454.4" y1="561" x2="1454.4" y2="569" stroke="#000" stroke-width="3.2" stroke-linecap="butt"/>
<line x1="1534.6" y1="561" x2="1534.6" y2="569" stroke="#000" stroke-width="3.2" stroke-linecap="butt"/>
<text transform="translate(1445.37,602.66) rotate(-45)" x="0" y="0" font-size="20.1" font-weight="bold" textLength="29.03" lengthAdjust="spacingAndGlyphs">Ctr</text>
<text transform="translate(1525.52,599.81) rotate(-45)" x="0" y="0" font-size="20.1" font-weight="bold" textLength="24.56" lengthAdjust="spacingAndGlyphs">Tg</text>
<line x1="1508.3" y1="418.3" x2="1562.2" y2="418.3" stroke="#000" stroke-width="2.6" stroke-linecap="round"/>
<line x1="1534.6" y1="338" x2="1534.6" y2="498.5" stroke="#000" stroke-width="2.6" stroke-linecap="butt"/>
<line x1="1520.9" y1="338" x2="1549" y2="338" stroke="#000" stroke-width="2.6" stroke-linecap="round"/>
<line x1="1520.9" y1="498.5" x2="1549" y2="498.5" stroke="#000" stroke-width="2.6" stroke-linecap="round"/>
<circle cx="1446.5" cy="536" r="5.2" fill="#000"/>
<circle cx="1462.8" cy="539.2" r="5.2" fill="#000"/>
<circle cx="1437.8" cy="561" r="5.2" fill="#000"/>
<circle cx="1454.4" cy="562.4" r="5.2" fill="#000"/>
<circle cx="1471.5" cy="561" r="5.2" fill="#000"/>
<rect x="1529.35" y="324.45" width="10.5" height="10.5" fill="#000"/>
<rect x="1529.35" y="356.45" width="10.5" height="10.5" fill="#000"/>
<rect x="1529.35" y="391.95" width="10.5" height="10.5" fill="#000"/>
<rect x="1521.45" y="497.15" width="10.5" height="10.5" fill="#000"/>
<rect x="1538.05" y="496.35" width="10.5" height="10.5" fill="#000"/>
<text x="1411" y="269" font-size="20.83" font-weight="bold" textLength="134.25" lengthAdjust="spacingAndGlyphs">4 wks after Tx</text>
<text x="1487.22" y="305.6" font-size="22.65" textLength="83.3" lengthAdjust="spacingAndGlyphs">P=0.019</text>
<text transform="translate(1355.53,0) rotate(-90)" x="-501.99" y="0" font-size="19.63" font-weight="bold" textLength="149.27" lengthAdjust="spacingAndGlyphs">G-CSF (pg/ml)</text>
<line x1="1428" y1="551.8" x2="1481.5" y2="551.8" stroke="#000" stroke-width="2.6" stroke-linecap="round"/>
<line x1="1454.4" y1="539.7" x2="1454.4" y2="561" stroke="#000" stroke-width="2.6" stroke-linecap="butt"/>
<line x1="1441.2" y1="539.7" x2="1467.5" y2="539.7" stroke="#000" stroke-width="2.6" stroke-linecap="round"/>
<line x1="1441.2" y1="561" x2="1467.5" y2="561" stroke="#000" stroke-width="2.6" stroke-linecap="round"/>
<line x1="117.7" y1="660.9" x2="117.7" y2="936.8" stroke="#000" stroke-width="4" stroke-linecap="butt"/>
<line x1="115.7" y1="934.8" x2="280.3" y2="934.8" stroke="#000" stroke-width="4" stroke-linecap="butt"/>
<line x1="107.9" y1="934.8" x2="117.7" y2="934.8" stroke="#000" stroke-width="3.2" stroke-linecap="butt"/>
<text x="95.06" y="942.19" font-size="21.5" font-weight="bold" textLength="11" lengthAdjust="spacingAndGlyphs">0</text>
<line x1="107.9" y1="843.97" x2="117.7" y2="843.97" stroke="#000" stroke-width="3.2" stroke-linecap="butt"/>
<text x="73.06" y="851.36" font-size="21.5" font-weight="bold" textLength="33" lengthAdjust="spacingAndGlyphs">200</text>
<line x1="107.9" y1="753.13" x2="117.7" y2="753.13" stroke="#000" stroke-width="3.2" stroke-linecap="butt"/>
<text x="73.06" y="760.52" font-size="21.5" font-weight="bold" textLength="33" lengthAdjust="spacingAndGlyphs">400</text>
<line x1="107.9" y1="662.3" x2="117.7" y2="662.3" stroke="#000" stroke-width="3.2" stroke-linecap="butt"/>
<text x="73.06" y="669.69" font-size="21.5" font-weight="bold" textLength="33" lengthAdjust="spacingAndGlyphs">600</text>
<line x1="159" y1="934.8" x2="159" y2="945.8" stroke="#000" stroke-width="3.2" stroke-linecap="butt"/>
<line x1="240.3" y1="934.8" x2="240.3" y2="945.8" stroke="#000" stroke-width="3.2" stroke-linecap="butt"/>
<text transform="translate(153.47,980.96) rotate(-45)" x="0" y="0" font-size="20.1" font-weight="bold" textLength="29.03" lengthAdjust="spacingAndGlyphs">Ctr</text>
<text transform="translate(233.62,977.91) rotate(-45)" x="0" y="0" font-size="20.1" font-weight="bold" textLength="24.56" lengthAdjust="spacingAndGlyphs">Tg</text>
<line x1="131.8" y1="845.7" x2="185.6" y2="845.7" stroke="#000" stroke-width="2.6" stroke-linecap="round"/>
<line x1="159" y1="802.2" x2="159" y2="889.4" stroke="#000" stroke-width="2.6" stroke-linecap="butt"/>
<line x1="144.4" y1="802.2" x2="173" y2="802.2" stroke="#000" stroke-width="2.6" stroke-linecap="round"/>
<line x1="144.4" y1="889.4" x2="173" y2="889.4" stroke="#000" stroke-width="2.6" stroke-linecap="round"/>
<line x1="213" y1="808.7" x2="267.2" y2="808.7" stroke="#000" stroke-width="2.6" stroke-linecap="round"/>
<line x1="240.3" y1="735.2" x2="240.3" y2="881.6" stroke="#000" stroke-width="2.6" stroke-linecap="butt"/>
<line x1="225.7" y1="735.2" x2="255.1" y2="735.2" stroke="#000" stroke-width="2.6" stroke-linecap="round"/>
<line x1="225.7" y1="881.6" x2="255.1" y2="881.6" stroke="#000" stroke-width="2.6" stroke-linecap="round"/>
<circle cx="159" cy="775.6" r="5.2" fill="#000"/>
<circle cx="159" cy="805.3" r="5.2" fill="#000"/>
<circle cx="150.5" cy="846" r="5.2" fill="#000"/>
<circle cx="167.4" cy="842.3" r="5.2" fill="#000"/>
<circle cx="159" cy="868.4" r="5.2" fill="#000"/>
<circle cx="167.4" cy="887.7" r="5.2" fill="#000"/>
<circle cx="150.5" cy="895" r="5.2" fill="#000"/>
<rect x="235.05" y="694.05" width="10.5" height="10.5" fill="#000"/>
<rect x="235.05" y="771.15" width="10.5" height="10.5" fill="#000"/>
<rect x="235.05" y="816.85" width="10.5" height="10.5" fill="#000"/>
<rect x="243.45" y="863.15" width="10.5" height="10.5" fill="#000"/>
<rect x="226.35" y="872.15" width="10.5" height="10.5" fill="#000"/>
<text x="181.1" y="652.7" font-size="26.76" font-weight="bold" textLength="32.8" lengthAdjust="spacingAndGlyphs">LK</text>
<text transform="translate(61.96,0) rotate(-90)" x="-942.2" y="0" font-size="23.54" textLength="270.94" lengthAdjust="spacingAndGlyphs">LK cell number in blood /ml</text>
<line x1="379.5" y1="660.1" x2="379.5" y2="938.6" stroke="#000" stroke-width="4" stroke-linecap="butt"/>
<line x1="377.5" y1="936.6" x2="544.3" y2="936.6" stroke="#000" stroke-width="4" stroke-linecap="butt"/>
<line x1="370.5" y1="936.6" x2="379.5" y2="936.6" stroke="#000" stroke-width="3.2" stroke-linecap="butt"/>
<text x="357.66" y="943.99" font-size="21.5" font-weight="bold" textLength="11" lengthAdjust="spacingAndGlyphs">0</text>
<line x1="370.5" y1="844.9" x2="379.5" y2="844.9" stroke="#000" stroke-width="3.2" stroke-linecap="butt"/>
<text x="346.69" y="852.29" font-size="21.5" font-weight="bold" textLength="22" lengthAdjust="spacingAndGlyphs">50</text>
<line x1="370.5" y1="753.2" x2="379.5" y2="753.2" stroke="#000" stroke-width="3.2" stroke-linecap="butt"/>
<text x="335.66" y="760.59" font-size="21.5" font-weight="bold" textLength="33" lengthAdjust="spacingAndGlyphs">100</text>
<line x1="370.5" y1="661.5" x2="379.5" y2="661.5" stroke="#000" stroke-width="3.2" stroke-linecap="butt"/>
<text x="335.66" y="668.89" font-size="21.5" font-weight="bold" textLength="33" lengthAdjust="spacingAndGlyphs">150</text>
<line x1="421.8" y1="936.6" x2="421.8" y2="947.6" stroke="#000" stroke-width="3.2" stroke-linecap="butt"/>
<line x1="503.3" y1="936.6" x2="503.3" y2="947.6" stroke="#000" stroke-width="3.2" stroke-linecap="butt"/>
<text transform="translate(413.47,980.76) rotate(-45)" x="0" y="0" font-size="20.1" font-weight="bold" textLength="29.03" lengthAdjust="spacingAndGlyphs">Ctr</text>
<text transform="translate(493.52,977.91) rotate(-45)" x="0" y="0" font-size="20.1" font-weight="bold" textLength="24.56" lengthAdjust="spacingAndGlyphs">Tg</text>
<line x1="394.6" y1="852.8" x2="448.8" y2="852.8" stroke="#000" stroke-width="2.6" stroke-linecap="round"/>
<line x1="421.8" y1="811.5" x2="421.8" y2="893.8" stroke="#000" stroke-width="2.6" stroke-linecap="butt"/>
<line x1="407.6" y1="811.5" x2="436.1" y2="811.5" stroke="#000" stroke-width="2.6" stroke-linecap="round"/>
<line x1="407.6" y1="893.8" x2="436.1" y2="893.8" stroke="#000" stroke-width="2.6" stroke-linecap="round"/>
<line x1="476.4" y1="712.8" x2="531.1" y2="712.8" stroke="#000" stroke-width="2.6" stroke-linecap="round"/>
<line x1="503.9" y1="700.9" x2="503.9" y2="724.9" stroke="#000" stroke-width="2.6" stroke-linecap="butt"/>
<line x1="489.1" y1="700.9" x2="518.8" y2="700.9" stroke="#000" stroke-width="2.6" stroke-linecap="round"/>
<line x1="489.1" y1="724.9" x2="518.8" y2="724.9" stroke="#000" stroke-width="2.6" stroke-linecap="round"/>
<circle cx="421.8" cy="775" r="5.2" fill="#000"/>
<circle cx="421.8" cy="829.7" r="5.2" fill="#000"/>
<circle cx="413.3" cy="845.8" r="5.2" fill="#000"/>
<circle cx="430.2" cy="860.9" r="5.2" fill="#000"/>
<circle cx="405" cy="880.3" r="5.2" fill="#000"/>
<circle cx="421.8" cy="889.9" r="5.2" fill="#000"/>
<circle cx="438.5" cy="888.1" r="5.2" fill="#000"/>
<rect x="481.85" y="701.45" width="10.5" height="10.5" fill="#000"/>
<rect x="498.75" y="701.45" width="10.5" height="10.5" fill="#000"/>
<rect x="515.25" y="696.15" width="10.5" height="10.5" fill="#000"/>
<rect x="507.15" y="713.75" width="10.5" height="10.5" fill="#000"/>
<rect x="490.35" y="725.55" width="10.5" height="10.5" fill="#000"/>
<text x="430.9" y="652.6" font-size="26.24" font-weight="bold" textLength="49.29" lengthAdjust="spacingAndGlyphs">LSK</text>
<text x="398.64" y="694.6" font-size="23.8" textLength="94.55" lengthAdjust="spacingAndGlyphs">P=0.0001</text>
<text transform="translate(323.47,0) rotate(-90)" x="-944.91" y="0" font-size="22.86" textLength="287.45" lengthAdjust="spacingAndGlyphs">LSK cell number in blood /ml</text>
<g transform="translate(590.6,661.6) scale(1)">
<path d="M119.85,73.22 C120.91,73.22 124.26,73.12 126.23,73.22 C128.19,73.32 130.15,73.45 131.63,73.81 C133.1,74.17 134.33,74.66 135.06,75.38 C135.8,76.1 136.13,77.1 136.04,78.13 C135.96,79.16 135.55,80.34 134.57,81.56 C133.59,82.79 132.04,84.23 130.15,85.49 C128.27,86.75 125.9,88.11 123.28,89.12 C120.66,90.14 117.55,90.91 114.45,91.58 C111.34,92.25 107.9,92.69 104.63,93.15 C101.36,93.6 97.92,93.88 94.81,94.32 C91.7,94.77 88.76,95.22 85.98,95.8 C83.19,96.37 80.41,97.02 78.12,97.76 C75.83,98.5 74.52,99.48 72.23,100.22 C69.94,100.95 67,101.44 64.38,102.18 C61.76,102.92 58.81,103.57 56.52,104.63 C54.23,105.7 52.6,107.25 50.63,108.56 C48.67,109.87 46.54,111.1 44.74,112.49 C42.94,113.88 41.22,115.27 39.83,116.9 C38.44,118.54 37.3,120.59 36.4,122.3 C35.5,124.02 34.76,125.74 34.43,127.21 C34.11,128.69 34.11,129.99 34.43,131.14 C34.76,132.29 35.66,133.27 36.4,134.09 C37.13,134.9 38.44,135.72 38.85,136.05" fill="none" stroke="#111" stroke-width="1.3" stroke-linecap="round" stroke-linejoin="round"/>
<path d="M119.16,72.82 C119.22,72.71 118.05,72.3 119.55,72.14 C121.06,71.97 125.77,71.79 128.19,71.84 C130.61,71.89 132.53,72.04 134.08,72.43 C135.64,72.82 136.7,73.33 137.52,74.2 C138.34,75.07 138.91,76.41 138.99,77.64 C139.07,78.86 138.66,80.17 138.01,81.56 C137.35,82.95 136.54,84.59 135.06,85.98 C133.59,87.37 131.3,88.76 129.17,89.91 C127.05,91.05 125.08,92.03 122.3,92.85 C119.52,93.67 115.76,94.24 112.48,94.82 C109.21,95.39 105.94,95.8 102.67,96.29 C99.39,96.78 95.96,97.11 92.85,97.76 C89.74,98.42 86.47,99.48 84.01,100.22 C81.56,100.95 79.1,101.85 78.12,102.18" fill="none" stroke="#111" stroke-width="1.3" stroke-linecap="round" stroke-linejoin="round"/>
<path d="M78.12,102.18 C79.43,102.59 83.36,103.73 85.98,104.63 C88.59,105.53 91.21,106.43 93.83,107.58 C96.45,108.72 99.23,110.03 101.68,111.51 C104.14,112.98 106.76,114.78 108.56,116.41 C110.36,118.05 111.5,119.52 112.48,121.32 C113.46,123.12 114.04,125.41 114.45,127.21 C114.86,129.01 114.77,130.81 114.94,132.12 C115.1,133.43 114.86,134.41 115.43,135.07 C116,135.72 117.06,135.97 118.37,136.05 C119.68,136.13 122.46,135.64 123.28,135.56" fill="none" stroke="#111" stroke-width="1.3" stroke-linecap="round" stroke-linejoin="round"/>
<path d="M123.28,135.56 C123.12,136.62 122.79,139.57 122.3,141.94 C121.81,144.31 120.91,147.18 120.34,149.79 C119.76,152.41 119.35,155.03 118.86,157.65 C118.37,160.26 117.72,162.88 117.39,165.5 C117.06,168.12 117.06,170.74 116.9,173.35 C116.74,175.97 116.66,178.92 116.41,181.21 C116.16,183.5 115.92,185.46 115.43,187.1 C114.94,188.74 114.28,190.04 113.46,191.03 C112.65,192.01 111.5,192.83 110.52,192.99 C109.54,193.15 108.56,192.5 107.57,192.01 C106.59,191.52 105.45,190.86 104.63,190.04 C103.81,189.23 102.99,187.59 102.67,187.1" fill="none" stroke="#111" stroke-width="1.7" stroke-linecap="round" stroke-linejoin="round"/>
<path d="M113.46,141.94 C114.12,141.28 116.08,138.96 117.39,138.01 C118.7,137.06 120.66,136.54 121.32,136.25" fill="none" stroke="#111" stroke-width="1" stroke-linecap="round" stroke-linejoin="round"/>
<path d="M114.45,147.83 L115.43,149.79" fill="none" stroke="#111" stroke-width="1" stroke-linecap="round" stroke-linejoin="round"/>
<path d="M39.12,137.06 C38.37,137.39 36.31,138.51 34.63,139.02 C32.95,139.53 30.7,139.77 29.02,140.14 C27.34,140.51 25.84,140.79 24.53,141.26 C23.22,141.73 22.1,142.29 21.17,142.95 C20.24,143.6 19.45,144.44 18.93,145.19 C18.41,145.94 17.99,146.87 18.08,147.43 C18.17,147.99 18.97,147.81 19.49,148.56 C20,149.31 20.61,151.22 21.17,151.92 C21.73,152.62 22.38,152.85 22.85,152.76 C23.32,152.67 23.59,151.13 23.97,151.36 C24.34,151.59 24.63,153.6 25.1,154.16 C25.57,154.72 26.22,155 26.78,154.72 C27.34,154.44 27.81,153.32 28.46,152.48 C29.11,151.64 29.86,150.52 30.7,149.68 C31.54,148.84 32.57,147.99 33.51,147.43 C34.45,146.87 35.75,146.03 36.31,146.31 C36.87,146.59 36.59,148.75 36.87,149.12 C37.15,149.5 37.53,149.5 38,148.56 C38.47,147.62 39.03,144.73 39.68,143.51 C40.33,142.29 41.55,141.63 41.92,141.26" fill="none" stroke="#111" stroke-width="1.3" stroke-linecap="round" stroke-linejoin="round"/>
<path d="M20,146.2 C20.5,146.27 22,146.38 23,146.6 C24,146.82 25.5,147.35 26,147.5" fill="none" stroke="#111" stroke-width="0.9" stroke-linecap="round" stroke-linejoin="round"/>
<path d="M22.5,149.8 C23,149.75 24.58,149.53 25.5,149.5 C26.42,149.47 27.58,149.58 28,149.6" fill="none" stroke="#111" stroke-width="0.9" stroke-linecap="round" stroke-linejoin="round"/>
<path d="M39.34,138.01 C40.08,138.83 42.53,141.28 43.76,142.92 C44.99,144.56 45.72,146.19 46.71,147.83 C47.69,149.47 48.59,151.27 49.65,152.74 C50.71,154.21 52.6,155.19 53.09,156.67 C53.58,158.14 52.68,159.94 52.6,161.57 C52.51,163.21 52.27,164.85 52.6,166.48 C52.92,168.12 53.74,169.76 54.56,171.39 C55.38,173.03 56.69,174.66 57.51,176.3 C58.32,177.94 58.98,179.57 59.47,181.21 C59.96,182.84 60.29,184.48 60.45,186.12 C60.61,187.75 60.29,189.72 60.45,191.03 C60.61,192.34 61.27,193.48 61.43,193.97" fill="none" stroke="#111" stroke-width="1.3" stroke-linecap="round" stroke-linejoin="round"/>
<path d="M59.87,181.09 C59.87,182.02 59.96,185.01 59.87,186.69 C59.78,188.37 59.17,189.87 59.31,191.18 C59.45,192.49 60.06,193.7 60.71,194.54 C61.36,195.38 62.43,195.57 63.23,196.23 C64.02,196.88 64.73,197.91 65.48,198.47 C66.23,199.03 66.79,199.4 67.72,199.59 C68.65,199.78 70.33,199.87 71.08,199.59 C71.83,199.31 71.55,198.38 72.21,197.91 C72.86,197.44 74.45,197.16 75.01,196.79 C75.57,196.42 75.85,196.14 75.57,195.67 C75.29,195.2 74.17,194.54 73.33,193.98 C72.49,193.42 71.27,193.05 70.52,192.3 C69.77,191.55 69.31,190.62 68.84,189.5 C68.37,188.38 67.95,186.97 67.72,185.57 C67.49,184.17 67.25,182.31 67.44,181.09 C67.63,179.88 68.05,179.22 68.84,178.28 C69.64,177.34 71.37,176.32 72.21,175.48 C73.05,174.64 73.61,173.61 73.89,173.24" fill="none" stroke="#111" stroke-width="1.3" stroke-linecap="round" stroke-linejoin="round"/>
<path d="M64.36,193.42 C64.57,193.82 65.23,195.05 65.6,195.8 C65.97,196.55 66.43,197.56 66.6,197.91" fill="none" stroke="#111" stroke-width="0.9" stroke-linecap="round" stroke-linejoin="round"/>
<path d="M68.28,192.86 C68.48,193.35 69.13,194.87 69.5,195.8 C69.87,196.74 70.35,198.03 70.52,198.47" fill="none" stroke="#111" stroke-width="0.9" stroke-linecap="round" stroke-linejoin="round"/>
<path d="M71.65,193.98 C71.81,194.28 72.32,195.24 72.6,195.8 C72.88,196.36 73.21,197.09 73.33,197.35" fill="none" stroke="#111" stroke-width="0.9" stroke-linecap="round" stroke-linejoin="round"/>
<path d="M74.19,138.01 C73.7,138.67 71.99,140.3 71.25,141.94 C70.51,143.58 69.78,145.87 69.78,147.83 C69.78,149.79 70.35,152.08 71.25,153.72 C72.15,155.36 73.7,156.83 75.18,157.65 C76.65,158.47 78.61,158.6 80.09,158.63 C81.56,158.66 83.11,158.42 84.01,157.84 C84.91,157.27 85.24,155.63 85.48,155.19" fill="none" stroke="#111" stroke-width="1.3" stroke-linecap="round" stroke-linejoin="round"/>
<path d="M73.21,137.52 C74.36,137.93 77.96,138.75 80.09,139.98 C82.21,141.2 84.58,143.25 85.98,144.88 C87.37,146.52 88.02,148.97 88.43,149.79" fill="none" stroke="#111" stroke-width="1.7" stroke-linecap="round" stroke-linejoin="round"/>
<path d="M80.09,141.94 C80.74,142.92 83.16,145.87 84.01,147.83 C84.86,149.79 85.11,152.05 85.19,153.72 C85.27,155.39 84.62,157.16 84.5,157.84" fill="none" stroke="#111" stroke-width="1.1" stroke-linecap="round" stroke-linejoin="round"/>
<circle cx="96.28" cy="171.39" r="3.1" fill="#111"/>
<path d="M103.16,176.3 C103.48,176.87 104.47,178.92 105.12,179.74 C105.77,180.55 106.76,180.96 107.08,181.21" fill="none" stroke="#111" stroke-width="1" stroke-linecap="round" stroke-linejoin="round"/>
<path d="M92.85,184.15 C93.67,184.64 96.12,186.58 97.76,187.1 C99.39,187.62 101.85,187.26 102.67,187.3" fill="none" stroke="#111" stroke-width="0.9" stroke-linecap="round" stroke-linejoin="round"/>
<line x1="117.39" y1="184.64" x2="123.28" y2="160.59" stroke="#222" stroke-width="0.85" stroke-linecap="round"/>
<line x1="117.39" y1="184.64" x2="127.21" y2="162.56" stroke="#222" stroke-width="0.85" stroke-linecap="round"/>
<line x1="117.39" y1="184.64" x2="131.14" y2="165.5" stroke="#222" stroke-width="0.85" stroke-linecap="round"/>
<line x1="117.39" y1="184.64" x2="129.17" y2="175.32" stroke="#222" stroke-width="0.85" stroke-linecap="round"/>
<line x1="117.39" y1="184.64" x2="137.03" y2="180.23" stroke="#222" stroke-width="0.85" stroke-linecap="round"/>
<line x1="117.39" y1="184.64" x2="131.14" y2="185.14" stroke="#222" stroke-width="0.85" stroke-linecap="round"/>
<line x1="103.65" y1="181.21" x2="62.41" y2="176.3" stroke="#333" stroke-width="0.8" stroke-linecap="round"/>
<line x1="105.61" y1="183.17" x2="76.16" y2="183.17" stroke="#333" stroke-width="0.8" stroke-linecap="round"/>
<line x1="105.61" y1="184.64" x2="78.12" y2="187.3" stroke="#333" stroke-width="0.8" stroke-linecap="round"/>
<line x1="104.63" y1="185.63" x2="80.09" y2="191.22" stroke="#333" stroke-width="0.8" stroke-linecap="round"/>
<line x1="101.68" y1="180.23" x2="70.27" y2="178.75" stroke="#333" stroke-width="0.8" stroke-linecap="round"/>
<line x1="103.65" y1="183.66" x2="74.19" y2="185.63" stroke="#333" stroke-width="0.8" stroke-linecap="round"/>
</g>
<line x1="745.6" y1="811" x2="1063" y2="811" stroke="#000" stroke-width="3.3" stroke-linecap="butt"/>
<line x1="747" y1="810" x2="747" y2="829.6" stroke="#000" stroke-width="3" stroke-linecap="butt"/>
<line x1="852" y1="810" x2="852" y2="829.6" stroke="#000" stroke-width="3" stroke-linecap="butt"/>
<line x1="949" y1="810" x2="949" y2="829.6" stroke="#000" stroke-width="3" stroke-linecap="butt"/>
<line x1="1061" y1="810" x2="1061" y2="829.6" stroke="#000" stroke-width="3" stroke-linecap="butt"/>
<line x1="762" y1="810" x2="762" y2="821" stroke="#000" stroke-width="3" stroke-linecap="butt"/>
<line x1="778" y1="810" x2="778" y2="821" stroke="#000" stroke-width="3" stroke-linecap="butt"/>
<line x1="793" y1="810" x2="793" y2="821" stroke="#000" stroke-width="3" stroke-linecap="butt"/>
<line x1="809" y1="810" x2="809" y2="821" stroke="#000" stroke-width="3" stroke-linecap="butt"/>
<line x1="823" y1="810" x2="823" y2="821" stroke="#000" stroke-width="3" stroke-linecap="butt"/>
<line x1="837" y1="810" x2="837" y2="821" stroke="#000" stroke-width="3" stroke-linecap="butt"/>
<line x1="866" y1="810" x2="866" y2="821" stroke="#000" stroke-width="3" stroke-linecap="butt"/>
<line x1="881" y1="810" x2="881" y2="821" stroke="#000" stroke-width="3" stroke-linecap="butt"/>
<line x1="895" y1="810" x2="895" y2="821" stroke="#000" stroke-width="3" stroke-linecap="butt"/>
<line x1="910" y1="810" x2="910" y2="821" stroke="#000" stroke-width="3" stroke-linecap="butt"/>
<line x1="924" y1="810" x2="924" y2="821" stroke="#000" stroke-width="3" stroke-linecap="butt"/>
<line x1="937" y1="810" x2="937" y2="821" stroke="#000" stroke-width="3" stroke-linecap="butt"/>
<line x1="961" y1="810" x2="961" y2="821" stroke="#000" stroke-width="3" stroke-linecap="butt"/>
<line x1="972" y1="810" x2="972" y2="821" stroke="#000" stroke-width="3" stroke-linecap="butt"/>
<line x1="986" y1="810" x2="986" y2="821" stroke="#000" stroke-width="3" stroke-linecap="butt"/>
<line x1="1003" y1="810" x2="1003" y2="821" stroke="#000" stroke-width="3" stroke-linecap="butt"/>
<line x1="1018" y1="810" x2="1018" y2="821" stroke="#000" stroke-width="3" stroke-linecap="butt"/>
<line x1="1031" y1="810" x2="1031" y2="821" stroke="#000" stroke-width="3" stroke-linecap="butt"/>
<line x1="1045" y1="810" x2="1045" y2="821" stroke="#000" stroke-width="3" stroke-linecap="butt"/>
<text x="846.4" y="859.6" font-size="28.51" font-weight="bold" textLength="14.28" lengthAdjust="spacingAndGlyphs">1</text>
<text x="942.57" y="859.6" font-size="28.1" font-weight="bold" textLength="17.66" lengthAdjust="spacingAndGlyphs">2</text>
<text x="1050.28" y="859.6" font-size="28.1" font-weight="bold" textLength="17.8" lengthAdjust="spacingAndGlyphs">3</text>
<text x="805.7" y="896" font-size="28.97" font-weight="bold" textLength="186.71" lengthAdjust="spacingAndGlyphs">Time (weeks)</text>
<text x="755.28" y="777" font-size="33.45" font-weight="bold" textLength="37.34" lengthAdjust="spacingAndGlyphs">Tx</text>
<text x="819.41" y="745.6" font-size="22.9" font-weight="bold" textLength="143.72" lengthAdjust="spacingAndGlyphs">Irradiation &amp;</text>
<text x="819.4" y="771" font-size="23.45" font-weight="bold" textLength="210.45" lengthAdjust="spacingAndGlyphs">HSPC recruitment</text>
<rect x="760.8" y="786" width="3.2" height="11.2" fill="#000"/>
<polygon points="759.2,796.4 765.6,796.4 762.4,803" fill="#000"/>
<rect x="776.4" y="786" width="3.2" height="11.2" fill="#000"/>
<polygon points="774.8,796.4 781.2,796.4 778,803" fill="#000"/>
<rect x="791.4" y="786" width="3.2" height="11.2" fill="#000"/>
<polygon points="789.8,796.4 796.2,796.4 793,803" fill="#000"/>
<rect x="807.2" y="766.6" width="4.2" height="25.3" fill="#f00"/>
<polygon points="805.7,790.9 812.9,790.9 809.9,803.4 809.3,805.4 808.7,803.4" fill="#f00"/>
<line x1="1204.6" y1="686.6" x2="1204.6" y2="954.9" stroke="#000" stroke-width="4" stroke-linecap="butt"/>
<line x1="1202.6" y1="952.9" x2="1362.3" y2="952.9" stroke="#000" stroke-width="4" stroke-linecap="butt"/>
<line x1="1194.5" y1="952.9" x2="1204.6" y2="952.9" stroke="#000" stroke-width="3.2" stroke-linecap="butt"/>
<text x="1181.66" y="960.29" font-size="21.5" font-weight="bold" textLength="11" lengthAdjust="spacingAndGlyphs">0</text>
<line x1="1194.5" y1="899.92" x2="1204.6" y2="899.92" stroke="#000" stroke-width="3.2" stroke-linecap="butt"/>
<text x="1170.69" y="907.31" font-size="21.5" font-weight="bold" textLength="22" lengthAdjust="spacingAndGlyphs">20</text>
<line x1="1194.5" y1="846.94" x2="1204.6" y2="846.94" stroke="#000" stroke-width="3.2" stroke-linecap="butt"/>
<text x="1170.69" y="854.33" font-size="21.5" font-weight="bold" textLength="22" lengthAdjust="spacingAndGlyphs">40</text>
<line x1="1194.5" y1="793.96" x2="1204.6" y2="793.96" stroke="#000" stroke-width="3.2" stroke-linecap="butt"/>
<text x="1170.69" y="801.35" font-size="21.5" font-weight="bold" textLength="22" lengthAdjust="spacingAndGlyphs">60</text>
<line x1="1194.5" y1="740.98" x2="1204.6" y2="740.98" stroke="#000" stroke-width="3.2" stroke-linecap="butt"/>
<text x="1170.69" y="748.37" font-size="21.5" font-weight="bold" textLength="22" lengthAdjust="spacingAndGlyphs">80</text>
<line x1="1194.5" y1="688" x2="1204.6" y2="688" stroke="#000" stroke-width="3.2" stroke-linecap="butt"/>
<text x="1159.66" y="695.39" font-size="21.5" font-weight="bold" textLength="33" lengthAdjust="spacingAndGlyphs">100</text>
<line x1="1243.7" y1="952.9" x2="1243.7" y2="963.9" stroke="#000" stroke-width="3.2" stroke-linecap="butt"/>
<line x1="1323.2" y1="952.9" x2="1323.2" y2="963.9" stroke="#000" stroke-width="3.2" stroke-linecap="butt"/>
<text transform="translate(1233.47,996.26) rotate(-45)" x="0" y="0" font-size="20.1" font-weight="bold" textLength="29.03" lengthAdjust="spacingAndGlyphs">Ctr</text>
<text transform="translate(1313.32,993.41) rotate(-45)" x="0" y="0" font-size="20.1" font-weight="bold" textLength="24.56" lengthAdjust="spacingAndGlyphs">Tg</text>
<line x1="1218" y1="836.3" x2="1269.5" y2="836.3" stroke="#000" stroke-width="2.6" stroke-linecap="round"/>
<line x1="1243.7" y1="802.8" x2="1243.7" y2="870.1" stroke="#000" stroke-width="2.6" stroke-linecap="butt"/>
<line x1="1229.9" y1="802.8" x2="1257.6" y2="802.8" stroke="#000" stroke-width="2.6" stroke-linecap="round"/>
<line x1="1229.9" y1="870.1" x2="1257.6" y2="870.1" stroke="#000" stroke-width="2.6" stroke-linecap="round"/>
<line x1="1296.7" y1="807.8" x2="1349.2" y2="807.8" stroke="#000" stroke-width="2.6" stroke-linecap="round"/>
<line x1="1323.2" y1="764.9" x2="1323.2" y2="851.5" stroke="#000" stroke-width="2.6" stroke-linecap="butt"/>
<line x1="1309.3" y1="764.9" x2="1337.1" y2="764.9" stroke="#000" stroke-width="2.6" stroke-linecap="round"/>
<line x1="1309.3" y1="851.5" x2="1337.1" y2="851.5" stroke="#000" stroke-width="2.6" stroke-linecap="round"/>
<circle cx="1235.7" cy="811.1" r="5.2" fill="#000"/>
<circle cx="1251.8" cy="811.1" r="5.2" fill="#000"/>
<circle cx="1235.7" cy="834.8" r="5.2" fill="#000"/>
<circle cx="1251.8" cy="834.8" r="5.2" fill="#000"/>
<circle cx="1243.7" cy="892.3" r="5.2" fill="#000"/>
<rect x="1317.95" y="744.55" width="10.5" height="10.5" fill="#000"/>
<rect x="1309.65" y="776.55" width="10.5" height="10.5" fill="#000"/>
<rect x="1326.05" y="776.55" width="10.5" height="10.5" fill="#000"/>
<rect x="1309.65" y="827.05" width="10.5" height="10.5" fill="#000"/>
<rect x="1326.05" y="834.55" width="10.5" height="10.5" fill="#000"/>
<rect x="1317.95" y="858.05" width="10.5" height="10.5" fill="#000"/>
<text x="1237.4" y="680.2" font-size="26.09" font-weight="bold" textLength="95.5" lengthAdjust="spacingAndGlyphs">BM-LSK</text>
<text transform="translate(1148.88,0) rotate(-90)" x="-940.08" y="0" font-size="22.31" textLength="238.62" lengthAdjust="spacingAndGlyphs">CD45.1 LSK cell number</text>
<line x1="1442.8" y1="688.6" x2="1442.8" y2="952.4" stroke="#000" stroke-width="4" stroke-linecap="butt"/>
<line x1="1440.8" y1="950.4" x2="1599.8" y2="950.4" stroke="#000" stroke-width="4" stroke-linecap="butt"/>
<line x1="1433.2" y1="950.4" x2="1442.8" y2="950.4" stroke="#000" stroke-width="3.2" stroke-linecap="butt"/>
<text x="1420.36" y="957.79" font-size="21.5" font-weight="bold" textLength="11" lengthAdjust="spacingAndGlyphs">0</text>
<line x1="1433.2" y1="863.6" x2="1442.8" y2="863.6" stroke="#000" stroke-width="3.2" stroke-linecap="butt"/>
<text x="1409.39" y="870.99" font-size="21.5" font-weight="bold" textLength="22" lengthAdjust="spacingAndGlyphs">50</text>
<line x1="1433.2" y1="776.8" x2="1442.8" y2="776.8" stroke="#000" stroke-width="3.2" stroke-linecap="butt"/>
<text x="1398.36" y="784.19" font-size="21.5" font-weight="bold" textLength="33" lengthAdjust="spacingAndGlyphs">100</text>
<line x1="1433.2" y1="690" x2="1442.8" y2="690" stroke="#000" stroke-width="3.2" stroke-linecap="butt"/>
<text x="1398.36" y="697.39" font-size="21.5" font-weight="bold" textLength="33" lengthAdjust="spacingAndGlyphs">150</text>
<line x1="1482.9" y1="950.4" x2="1482.9" y2="961.4" stroke="#000" stroke-width="3.2" stroke-linecap="butt"/>
<line x1="1561.2" y1="950.4" x2="1561.2" y2="961.4" stroke="#000" stroke-width="3.2" stroke-linecap="butt"/>
<text transform="translate(1473.27,995.86) rotate(-45)" x="0" y="0" font-size="20.1" font-weight="bold" textLength="29.03" lengthAdjust="spacingAndGlyphs">Ctr</text>
<text transform="translate(1553.02,993.21) rotate(-45)" x="0" y="0" font-size="20.1" font-weight="bold" textLength="24.56" lengthAdjust="spacingAndGlyphs">Tg</text>
<line x1="1457.7" y1="878" x2="1508.9" y2="878" stroke="#000" stroke-width="2.6" stroke-linecap="round"/>
<line x1="1482.9" y1="847.5" x2="1482.9" y2="908.3" stroke="#000" stroke-width="2.6" stroke-linecap="butt"/>
<line x1="1469.8" y1="847.5" x2="1497" y2="847.5" stroke="#000" stroke-width="2.6" stroke-linecap="round"/>
<line x1="1469.8" y1="908.3" x2="1497" y2="908.3" stroke="#000" stroke-width="2.6" stroke-linecap="round"/>
<line x1="1535.4" y1="814.2" x2="1587.2" y2="814.2" stroke="#000" stroke-width="2.6" stroke-linecap="round"/>
<line x1="1561.2" y1="767" x2="1561.2" y2="861.6" stroke="#000" stroke-width="2.6" stroke-linecap="butt"/>
<line x1="1547.3" y1="767" x2="1575" y2="767" stroke="#000" stroke-width="2.6" stroke-linecap="round"/>
<line x1="1547.3" y1="861.6" x2="1575" y2="861.6" stroke="#000" stroke-width="2.6" stroke-linecap="round"/>
<circle cx="1482.9" cy="826" r="5.2" fill="#000"/>
<circle cx="1482.9" cy="877.8" r="5.2" fill="#000"/>
<circle cx="1467.3" cy="888.1" r="5.2" fill="#000"/>
<circle cx="1498.8" cy="896.9" r="5.2" fill="#000"/>
<circle cx="1482.9" cy="901.2" r="5.2" fill="#000"/>
<rect x="1555.95" y="738.25" width="10.5" height="10.5" fill="#000"/>
<rect x="1555.95" y="765.95" width="10.5" height="10.5" fill="#000"/>
<rect x="1555.95" y="812.65" width="10.5" height="10.5" fill="#000"/>
<rect x="1540.25" y="839.75" width="10.5" height="10.5" fill="#000"/>
<rect x="1555.95" y="851.35" width="10.5" height="10.5" fill="#000"/>
<rect x="1571.85" y="848.05" width="10.5" height="10.5" fill="#000"/>
<text x="1451.63" y="679.7" font-size="24" font-weight="bold" textLength="137.14" lengthAdjust="spacingAndGlyphs">Spleen-LSK</text>
<text x="1464.78" y="722.8" font-size="22.94" textLength="68.79" lengthAdjust="spacingAndGlyphs">P=0.02</text>
<text transform="translate(1390.08,0) rotate(-90)" x="-938.87" y="0" font-size="22.31" textLength="236.11" lengthAdjust="spacingAndGlyphs">CD45.1 LSK cell number</text>
<g transform="translate(-9.55,1059.9) scale(0.99)">
<path d="M119.85,73.22 C120.91,73.22 124.26,73.12 126.23,73.22 C128.19,73.32 130.15,73.45 131.63,73.81 C133.1,74.17 134.33,74.66 135.06,75.38 C135.8,76.1 136.13,77.1 136.04,78.13 C135.96,79.16 135.55,80.34 134.57,81.56 C133.59,82.79 132.04,84.23 130.15,85.49 C128.27,86.75 125.9,88.11 123.28,89.12 C120.66,90.14 117.55,90.91 114.45,91.58 C111.34,92.25 107.9,92.69 104.63,93.15 C101.36,93.6 97.92,93.88 94.81,94.32 C91.7,94.77 88.76,95.22 85.98,95.8 C83.19,96.37 80.41,97.02 78.12,97.76 C75.83,98.5 74.52,99.48 72.23,100.22 C69.94,100.95 67,101.44 64.38,102.18 C61.76,102.92 58.81,103.57 56.52,104.63 C54.23,105.7 52.6,107.25 50.63,108.56 C48.67,109.87 46.54,111.1 44.74,112.49 C42.94,113.88 41.22,115.27 39.83,116.9 C38.44,118.54 37.3,120.59 36.4,122.3 C35.5,124.02 34.76,125.74 34.43,127.21 C34.11,128.69 34.11,129.99 34.43,131.14 C34.76,132.29 35.66,133.27 36.4,134.09 C37.13,134.9 38.44,135.72 38.85,136.05" fill="none" stroke="#111" stroke-width="1.3" stroke-linecap="round" stroke-linejoin="round"/>
<path d="M119.16,72.82 C119.22,72.71 118.05,72.3 119.55,72.14 C121.06,71.97 125.77,71.79 128.19,71.84 C130.61,71.89 132.53,72.04 134.08,72.43 C135.64,72.82 136.7,73.33 137.52,74.2 C138.34,75.07 138.91,76.41 138.99,77.64 C139.07,78.86 138.66,80.17 138.01,81.56 C137.35,82.95 136.54,84.59 135.06,85.98 C133.59,87.37 131.3,88.76 129.17,89.91 C127.05,91.05 125.08,92.03 122.3,92.85 C119.52,93.67 115.76,94.24 112.48,94.82 C109.21,95.39 105.94,95.8 102.67,96.29 C99.39,96.78 95.96,97.11 92.85,97.76 C89.74,98.42 86.47,99.48 84.01,100.22 C81.56,100.95 79.1,101.85 78.12,102.18" fill="none" stroke="#111" stroke-width="1.3" stroke-linecap="round" stroke-linejoin="round"/>
<path d="M78.12,102.18 C79.43,102.59 83.36,103.73 85.98,104.63 C88.59,105.53 91.21,106.43 93.83,107.58 C96.45,108.72 99.23,110.03 101.68,111.51 C104.14,112.98 106.76,114.78 108.56,116.41 C110.36,118.05 111.5,119.52 112.48,121.32 C113.46,123.12 114.04,125.41 114.45,127.21 C114.86,129.01 114.77,130.81 114.94,132.12 C115.1,133.43 114.86,134.41 115.43,135.07 C116,135.72 117.06,135.97 118.37,136.05 C119.68,136.13 122.46,135.64 123.28,135.56" fill="none" stroke="#111" stroke-width="1.3" stroke-linecap="round" stroke-linejoin="round"/>
<path d="M123.28,135.56 C123.12,136.62 122.79,139.57 122.3,141.94 C121.81,144.31 120.91,147.18 120.34,149.79 C119.76,152.41 119.35,155.03 118.86,157.65 C118.37,160.26 117.72,162.88 117.39,165.5 C117.06,168.12 117.06,170.74 116.9,173.35 C116.74,175.97 116.66,178.92 116.41,181.21 C116.16,183.5 115.92,185.46 115.43,187.1 C114.94,188.74 114.28,190.04 113.46,191.03 C112.65,192.01 111.5,192.83 110.52,192.99 C109.54,193.15 108.56,192.5 107.57,192.01 C106.59,191.52 105.45,190.86 104.63,190.04 C103.81,189.23 102.99,187.59 102.67,187.1" fill="none" stroke="#111" stroke-width="1.7" stroke-linecap="round" stroke-linejoin="round"/>
<path d="M113.46,141.94 C114.12,141.28 116.08,138.96 117.39,138.01 C118.7,137.06 120.66,136.54 121.32,136.25" fill="none" stroke="#111" stroke-width="1" stroke-linecap="round" stroke-linejoin="round"/>
<path d="M114.45,147.83 L115.43,149.79" fill="none" stroke="#111" stroke-width="1" stroke-linecap="round" stroke-linejoin="round"/>
<path d="M39.12,137.06 C38.37,137.39 36.31,138.51 34.63,139.02 C32.95,139.53 30.7,139.77 29.02,140.14 C27.34,140.51 25.84,140.79 24.53,141.26 C23.22,141.73 22.1,142.29 21.17,142.95 C20.24,143.6 19.45,144.44 18.93,145.19 C18.41,145.94 17.99,146.87 18.08,147.43 C18.17,147.99 18.97,147.81 19.49,148.56 C20,149.31 20.61,151.22 21.17,151.92 C21.73,152.62 22.38,152.85 22.85,152.76 C23.32,152.67 23.59,151.13 23.97,151.36 C24.34,151.59 24.63,153.6 25.1,154.16 C25.57,154.72 26.22,155 26.78,154.72 C27.34,154.44 27.81,153.32 28.46,152.48 C29.11,151.64 29.86,150.52 30.7,149.68 C31.54,148.84 32.57,147.99 33.51,147.43 C34.45,146.87 35.75,146.03 36.31,146.31 C36.87,146.59 36.59,148.75 36.87,149.12 C37.15,149.5 37.53,149.5 38,148.56 C38.47,147.62 39.03,144.73 39.68,143.51 C40.33,142.29 41.55,141.63 41.92,141.26" fill="none" stroke="#111" stroke-width="1.3" stroke-linecap="round" stroke-linejoin="round"/>
<path d="M20,146.2 C20.5,146.27 22,146.38 23,146.6 C24,146.82 25.5,147.35 26,147.5" fill="none" stroke="#111" stroke-width="0.9" stroke-linecap="round" stroke-linejoin="round"/>
<path d="M22.5,149.8 C23,149.75 24.58,149.53 25.5,149.5 C26.42,149.47 27.58,149.58 28,149.6" fill="none" stroke="#111" stroke-width="0.9" stroke-linecap="round" stroke-linejoin="round"/>
<path d="M39.34,138.01 C40.08,138.83 42.53,141.28 43.76,142.92 C44.99,144.56 45.72,146.19 46.71,147.83 C47.69,149.47 48.59,151.27 49.65,152.74 C50.71,154.21 52.6,155.19 53.09,156.67 C53.58,158.14 52.68,159.94 52.6,161.57 C52.51,163.21 52.27,164.85 52.6,166.48 C52.92,168.12 53.74,169.76 54.56,171.39 C55.38,173.03 56.69,174.66 57.51,176.3 C58.32,177.94 58.98,179.57 59.47,181.21 C59.96,182.84 60.29,184.48 60.45,186.12 C60.61,187.75 60.29,189.72 60.45,191.03 C60.61,192.34 61.27,193.48 61.43,193.97" fill="none" stroke="#111" stroke-width="1.3" stroke-linecap="round" stroke-linejoin="round"/>
<path d="M59.87,181.09 C59.87,182.02 59.96,185.01 59.87,186.69 C59.78,188.37 59.17,189.87 59.31,191.18 C59.45,192.49 60.06,193.7 60.71,194.54 C61.36,195.38 62.43,195.57 63.23,196.23 C64.02,196.88 64.73,197.91 65.48,198.47 C66.23,199.03 66.79,199.4 67.72,199.59 C68.65,199.78 70.33,199.87 71.08,199.59 C71.83,199.31 71.55,198.38 72.21,197.91 C72.86,197.44 74.45,197.16 75.01,196.79 C75.57,196.42 75.85,196.14 75.57,195.67 C75.29,195.2 74.17,194.54 73.33,193.98 C72.49,193.42 71.27,193.05 70.52,192.3 C69.77,191.55 69.31,190.62 68.84,189.5 C68.37,188.38 67.95,186.97 67.72,185.57 C67.49,184.17 67.25,182.31 67.44,181.09 C67.63,179.88 68.05,179.22 68.84,178.28 C69.64,177.34 71.37,176.32 72.21,175.48 C73.05,174.64 73.61,173.61 73.89,173.24" fill="none" stroke="#111" stroke-width="1.3" stroke-linecap="round" stroke-linejoin="round"/>
<path d="M64.36,193.42 C64.57,193.82 65.23,195.05 65.6,195.8 C65.97,196.55 66.43,197.56 66.6,197.91" fill="none" stroke="#111" stroke-width="0.9" stroke-linecap="round" stroke-linejoin="round"/>
<path d="M68.28,192.86 C68.48,193.35 69.13,194.87 69.5,195.8 C69.87,196.74 70.35,198.03 70.52,198.47" fill="none" stroke="#111" stroke-width="0.9" stroke-linecap="round" stroke-linejoin="round"/>
<path d="M71.65,193.98 C71.81,194.28 72.32,195.24 72.6,195.8 C72.88,196.36 73.21,197.09 73.33,197.35" fill="none" stroke="#111" stroke-width="0.9" stroke-linecap="round" stroke-linejoin="round"/>
<path d="M74.19,138.01 C73.7,138.67 71.99,140.3 71.25,141.94 C70.51,143.58 69.78,145.87 69.78,147.83 C69.78,149.79 70.35,152.08 71.25,153.72 C72.15,155.36 73.7,156.83 75.18,157.65 C76.65,158.47 78.61,158.6 80.09,158.63 C81.56,158.66 83.11,158.42 84.01,157.84 C84.91,157.27 85.24,155.63 85.48,155.19" fill="none" stroke="#111" stroke-width="1.3" stroke-linecap="round" stroke-linejoin="round"/>
<path d="M73.21,137.52 C74.36,137.93 77.96,138.75 80.09,139.98 C82.21,141.2 84.58,143.25 85.98,144.88 C87.37,146.52 88.02,148.97 88.43,149.79" fill="none" stroke="#111" stroke-width="1.7" stroke-linecap="round" stroke-linejoin="round"/>
<path d="M80.09,141.94 C80.74,142.92 83.16,145.87 84.01,147.83 C84.86,149.79 85.11,152.05 85.19,153.72 C85.27,155.39 84.62,157.16 84.5,157.84" fill="none" stroke="#111" stroke-width="1.1" stroke-linecap="round" stroke-linejoin="round"/>
<circle cx="96.28" cy="171.39" r="3.1" fill="#111"/>
<path d="M103.16,176.3 C103.48,176.87 104.47,178.92 105.12,179.74 C105.77,180.55 106.76,180.96 107.08,181.21" fill="none" stroke="#111" stroke-width="1" stroke-linecap="round" stroke-linejoin="round"/>
<path d="M92.85,184.15 C93.67,184.64 96.12,186.58 97.76,187.1 C99.39,187.62 101.85,187.26 102.67,187.3" fill="none" stroke="#111" stroke-width="0.9" stroke-linecap="round" stroke-linejoin="round"/>
<line x1="117.39" y1="184.64" x2="123.28" y2="160.59" stroke="#222" stroke-width="0.85" stroke-linecap="round"/>
<line x1="117.39" y1="184.64" x2="127.21" y2="162.56" stroke="#222" stroke-width="0.85" stroke-linecap="round"/>
<line x1="117.39" y1="184.64" x2="131.14" y2="165.5" stroke="#222" stroke-width="0.85" stroke-linecap="round"/>
<line x1="117.39" y1="184.64" x2="129.17" y2="175.32" stroke="#222" stroke-width="0.85" stroke-linecap="round"/>
<line x1="117.39" y1="184.64" x2="137.03" y2="180.23" stroke="#222" stroke-width="0.85" stroke-linecap="round"/>
<line x1="117.39" y1="184.64" x2="131.14" y2="185.14" stroke="#222" stroke-width="0.85" stroke-linecap="round"/>
<line x1="103.65" y1="181.21" x2="62.41" y2="176.3" stroke="#333" stroke-width="0.8" stroke-linecap="round"/>
<line x1="105.61" y1="183.17" x2="76.16" y2="183.17" stroke="#333" stroke-width="0.8" stroke-linecap="round"/>
<line x1="105.61" y1="184.64" x2="78.12" y2="187.3" stroke="#333" stroke-width="0.8" stroke-linecap="round"/>
<line x1="104.63" y1="185.63" x2="80.09" y2="191.22" stroke="#333" stroke-width="0.8" stroke-linecap="round"/>
<line x1="101.68" y1="180.23" x2="70.27" y2="178.75" stroke="#333" stroke-width="0.8" stroke-linecap="round"/>
<line x1="103.65" y1="183.66" x2="74.19" y2="185.63" stroke="#333" stroke-width="0.8" stroke-linecap="round"/>
</g>
<line x1="156" y1="1195.6" x2="473.1" y2="1195.6" stroke="#000" stroke-width="3.3" stroke-linecap="butt"/>
<line x1="157.5" y1="1194.5" x2="157.5" y2="1213.7" stroke="#000" stroke-width="3" stroke-linecap="butt"/>
<line x1="260.7" y1="1194.5" x2="260.7" y2="1213.7" stroke="#000" stroke-width="3" stroke-linecap="butt"/>
<line x1="358.8" y1="1194.5" x2="358.8" y2="1213.7" stroke="#000" stroke-width="3" stroke-linecap="butt"/>
<line x1="470.2" y1="1194.5" x2="470.2" y2="1213.7" stroke="#000" stroke-width="3" stroke-linecap="butt"/>
<line x1="171.4" y1="1194.5" x2="171.4" y2="1205.2" stroke="#000" stroke-width="3" stroke-linecap="butt"/>
<line x1="187.4" y1="1194.5" x2="187.4" y2="1205.2" stroke="#000" stroke-width="3" stroke-linecap="butt"/>
<line x1="202.5" y1="1194.5" x2="202.5" y2="1205.2" stroke="#000" stroke-width="3" stroke-linecap="butt"/>
<line x1="218" y1="1194.5" x2="218" y2="1205.2" stroke="#000" stroke-width="3" stroke-linecap="butt"/>
<line x1="233.1" y1="1194.5" x2="233.1" y2="1205.2" stroke="#000" stroke-width="3" stroke-linecap="butt"/>
<line x1="246.2" y1="1194.5" x2="246.2" y2="1205.2" stroke="#000" stroke-width="3" stroke-linecap="butt"/>
<line x1="275.3" y1="1194.5" x2="275.3" y2="1205.2" stroke="#000" stroke-width="3" stroke-linecap="butt"/>
<line x1="290.7" y1="1194.5" x2="290.7" y2="1205.2" stroke="#000" stroke-width="3" stroke-linecap="butt"/>
<line x1="304.9" y1="1194.5" x2="304.9" y2="1205.2" stroke="#000" stroke-width="3" stroke-linecap="butt"/>
<line x1="318.9" y1="1194.5" x2="318.9" y2="1205.2" stroke="#000" stroke-width="3" stroke-linecap="butt"/>
<line x1="333.5" y1="1194.5" x2="333.5" y2="1205.2" stroke="#000" stroke-width="3" stroke-linecap="butt"/>
<line x1="346.5" y1="1194.5" x2="346.5" y2="1205.2" stroke="#000" stroke-width="3" stroke-linecap="butt"/>
<line x1="371.3" y1="1194.5" x2="371.3" y2="1205.2" stroke="#000" stroke-width="3" stroke-linecap="butt"/>
<line x1="381.5" y1="1194.5" x2="381.5" y2="1205.2" stroke="#000" stroke-width="3" stroke-linecap="butt"/>
<line x1="396" y1="1194.5" x2="396" y2="1205.2" stroke="#000" stroke-width="3" stroke-linecap="butt"/>
<line x1="412" y1="1194.5" x2="412" y2="1205.2" stroke="#000" stroke-width="3" stroke-linecap="butt"/>
<line x1="428" y1="1194.5" x2="428" y2="1205.2" stroke="#000" stroke-width="3" stroke-linecap="butt"/>
<line x1="442.5" y1="1194.5" x2="442.5" y2="1205.2" stroke="#000" stroke-width="3" stroke-linecap="butt"/>
<line x1="455.6" y1="1194.5" x2="455.6" y2="1205.2" stroke="#000" stroke-width="3" stroke-linecap="butt"/>
<text x="256.24" y="1244.5" font-size="28.8" font-weight="bold" textLength="13.92" lengthAdjust="spacingAndGlyphs">1</text>
<text x="351.33" y="1244.5" font-size="28.39" font-weight="bold" textLength="18.35" lengthAdjust="spacingAndGlyphs">2</text>
<text x="459.21" y="1244.5" font-size="28.39" font-weight="bold" textLength="19.47" lengthAdjust="spacingAndGlyphs">3</text>
<text x="214.7" y="1279.4" font-size="28.14" font-weight="bold" textLength="187.92" lengthAdjust="spacingAndGlyphs">Time (weeks)</text>
<text x="186.17" y="1164.2" font-size="30.4" font-weight="bold" textLength="38.46" lengthAdjust="spacingAndGlyphs">Tx</text>
<text x="381.82" y="1148" font-size="23.45" font-weight="bold" textLength="216.24" lengthAdjust="spacingAndGlyphs">HSPC proliferation</text>
<text x="382.24" y="1173.8" font-size="24" font-weight="bold" textLength="161.25" lengthAdjust="spacingAndGlyphs">(BrdU uptake)</text>
<rect x="170.4" y="1170.9" width="3.2" height="10.2" fill="#000"/>
<polygon points="168.8,1180.3 175.2,1180.3 172,1186.9" fill="#000"/>
<rect x="185.8" y="1170.9" width="3.2" height="10.2" fill="#000"/>
<polygon points="184.2,1180.3 190.6,1180.3 187.4,1186.9" fill="#000"/>
<rect x="200.4" y="1170.9" width="3.2" height="10.2" fill="#000"/>
<polygon points="198.8,1180.3 205.2,1180.3 202,1186.9" fill="#000"/>
<rect x="215.5" y="1170.9" width="3.2" height="10.2" fill="#000"/>
<polygon points="213.9,1180.3 220.3,1180.3 217.1,1186.9" fill="#000"/>
<rect x="230.9" y="1170.9" width="3.2" height="10.2" fill="#000"/>
<polygon points="229.3,1180.3 235.7,1180.3 232.5,1186.9" fill="#000"/>
<rect x="369.3" y="1155.2" width="3.8" height="25" fill="#f00"/>
<polygon points="367.45,1179.2 374.95,1179.2 371.8,1191.2 371.2,1193.2 370.6,1191.2" fill="#f00"/>
<line x1="687.6" y1="1097.6" x2="687.6" y2="1380.5" stroke="#000" stroke-width="4" stroke-linecap="butt"/>
<line x1="685.6" y1="1378.5" x2="855.1" y2="1378.5" stroke="#000" stroke-width="4" stroke-linecap="butt"/>
<line x1="677.7" y1="1378.5" x2="687.6" y2="1378.5" stroke="#000" stroke-width="3.2" stroke-linecap="butt"/>
<text x="653.64" y="1385.89" font-size="21.5" font-weight="bold" textLength="22" lengthAdjust="spacingAndGlyphs">25</text>
<line x1="677.7" y1="1331.92" x2="687.6" y2="1331.92" stroke="#000" stroke-width="3.2" stroke-linecap="butt"/>
<text x="653.89" y="1339.28" font-size="21.5" font-weight="bold" textLength="22" lengthAdjust="spacingAndGlyphs">30</text>
<line x1="677.7" y1="1285.33" x2="687.6" y2="1285.33" stroke="#000" stroke-width="3.2" stroke-linecap="butt"/>
<text x="653.64" y="1292.7" font-size="21.5" font-weight="bold" textLength="22" lengthAdjust="spacingAndGlyphs">35</text>
<line x1="677.7" y1="1238.75" x2="687.6" y2="1238.75" stroke="#000" stroke-width="3.2" stroke-linecap="butt"/>
<text x="653.89" y="1246.14" font-size="21.5" font-weight="bold" textLength="22" lengthAdjust="spacingAndGlyphs">40</text>
<line x1="677.7" y1="1192.17" x2="687.6" y2="1192.17" stroke="#000" stroke-width="3.2" stroke-linecap="butt"/>
<text x="653.64" y="1199.45" font-size="21.5" font-weight="bold" textLength="22" lengthAdjust="spacingAndGlyphs">45</text>
<line x1="677.7" y1="1145.58" x2="687.6" y2="1145.58" stroke="#000" stroke-width="3.2" stroke-linecap="butt"/>
<text x="653.89" y="1152.97" font-size="21.5" font-weight="bold" textLength="22" lengthAdjust="spacingAndGlyphs">50</text>
<line x1="677.7" y1="1099" x2="687.6" y2="1099" stroke="#000" stroke-width="3.2" stroke-linecap="butt"/>
<text x="653.64" y="1106.28" font-size="21.5" font-weight="bold" textLength="22" lengthAdjust="spacingAndGlyphs">55</text>
<line x1="729.1" y1="1378.5" x2="729.1" y2="1389.5" stroke="#000" stroke-width="3.2" stroke-linecap="butt"/>
<line x1="813.1" y1="1378.5" x2="813.1" y2="1389.5" stroke="#000" stroke-width="3.2" stroke-linecap="butt"/>
<text transform="translate(721.47,1423.66) rotate(-45)" x="0" y="0" font-size="20.1" font-weight="bold" textLength="29.03" lengthAdjust="spacingAndGlyphs">Ctr</text>
<text transform="translate(801.22,1420.61) rotate(-45)" x="0" y="0" font-size="20.1" font-weight="bold" textLength="24.56" lengthAdjust="spacingAndGlyphs">Tg</text>
<line x1="702.1" y1="1292.6" x2="757.6" y2="1292.6" stroke="#000" stroke-width="2.6" stroke-linecap="round"/>
<line x1="729.1" y1="1258" x2="729.1" y2="1327" stroke="#000" stroke-width="2.6" stroke-linecap="butt"/>
<line x1="714.3" y1="1258" x2="744" y2="1258" stroke="#000" stroke-width="2.6" stroke-linecap="round"/>
<line x1="714.3" y1="1327" x2="744" y2="1327" stroke="#000" stroke-width="2.6" stroke-linecap="round"/>
<line x1="785.5" y1="1183.5" x2="840.7" y2="1183.5" stroke="#000" stroke-width="2.6" stroke-linecap="round"/>
<line x1="813.1" y1="1146.4" x2="813.1" y2="1220.9" stroke="#000" stroke-width="2.6" stroke-linecap="butt"/>
<line x1="799" y1="1146.4" x2="828" y2="1146.4" stroke="#000" stroke-width="2.6" stroke-linecap="round"/>
<line x1="799" y1="1220.9" x2="828" y2="1220.9" stroke="#000" stroke-width="2.6" stroke-linecap="round"/>
<circle cx="729.1" cy="1255.3" r="5.2" fill="#000"/>
<circle cx="729.1" cy="1302.1" r="5.2" fill="#000"/>
<circle cx="729.1" cy="1321.1" r="5.2" fill="#000"/>
<rect x="799.15" y="1141.15" width="10.5" height="10.5" fill="#000"/>
<rect x="816.55" y="1141.15" width="10.5" height="10.5" fill="#000"/>
<rect x="807.85" y="1182.35" width="10.5" height="10.5" fill="#000"/>
<rect x="807.85" y="1202.65" width="10.5" height="10.5" fill="#000"/>
<rect x="807.85" y="1226.45" width="10.5" height="10.5" fill="#000"/>
<text x="724.43" y="1076.8" font-size="24.97" font-weight="bold" textLength="121.06" lengthAdjust="spacingAndGlyphs">Spleen-LK</text>
<text x="707.26" y="1133.8" font-size="23.8" textLength="86.44" lengthAdjust="spacingAndGlyphs">P=0.006</text>
<text transform="translate(638.56,0) rotate(-90)" x="-1338.8" y="0" font-size="23.81" textLength="203.21" lengthAdjust="spacingAndGlyphs">% of BrdU+ LK cells</text>
<line x1="951.2" y1="1100.3" x2="951.2" y2="1384.5" stroke="#000" stroke-width="4" stroke-linecap="butt"/>
<line x1="949.2" y1="1382.5" x2="1118.6" y2="1382.5" stroke="#000" stroke-width="4" stroke-linecap="butt"/>
<line x1="940.9" y1="1382.5" x2="951.2" y2="1382.5" stroke="#000" stroke-width="3.2" stroke-linecap="butt"/>
<text x="928.06" y="1389.89" font-size="21.5" font-weight="bold" textLength="11" lengthAdjust="spacingAndGlyphs">0</text>
<line x1="940.9" y1="1288.9" x2="951.2" y2="1288.9" stroke="#000" stroke-width="3.2" stroke-linecap="butt"/>
<text x="917.09" y="1296.29" font-size="21.5" font-weight="bold" textLength="22" lengthAdjust="spacingAndGlyphs">10</text>
<line x1="940.9" y1="1195.3" x2="951.2" y2="1195.3" stroke="#000" stroke-width="3.2" stroke-linecap="butt"/>
<text x="917.09" y="1202.69" font-size="21.5" font-weight="bold" textLength="22" lengthAdjust="spacingAndGlyphs">20</text>
<line x1="940.9" y1="1101.7" x2="951.2" y2="1101.7" stroke="#000" stroke-width="3.2" stroke-linecap="butt"/>
<text x="917.09" y="1109.06" font-size="21.5" font-weight="bold" textLength="22" lengthAdjust="spacingAndGlyphs">30</text>
<line x1="993.2" y1="1382.5" x2="993.2" y2="1393.5" stroke="#000" stroke-width="3.2" stroke-linecap="butt"/>
<line x1="1077.1" y1="1382.5" x2="1077.1" y2="1393.5" stroke="#000" stroke-width="3.2" stroke-linecap="butt"/>
<text transform="translate(988.07,1423.66) rotate(-45)" x="0" y="0" font-size="20.1" font-weight="bold" textLength="29.03" lengthAdjust="spacingAndGlyphs">Ctr</text>
<text transform="translate(1067.62,1420.61) rotate(-45)" x="0" y="0" font-size="20.1" font-weight="bold" textLength="24.56" lengthAdjust="spacingAndGlyphs">Tg</text>
<line x1="964.2" y1="1243.6" x2="1020.3" y2="1243.6" stroke="#000" stroke-width="2.6" stroke-linecap="round"/>
<line x1="993.2" y1="1224.1" x2="993.2" y2="1263.4" stroke="#000" stroke-width="2.6" stroke-linecap="butt"/>
<line x1="978.3" y1="1224.1" x2="1007.6" y2="1224.1" stroke="#000" stroke-width="2.6" stroke-linecap="round"/>
<line x1="978.3" y1="1263.4" x2="1007.6" y2="1263.4" stroke="#000" stroke-width="2.6" stroke-linecap="round"/>
<line x1="1049.3" y1="1188.4" x2="1104.8" y2="1188.4" stroke="#000" stroke-width="2.6" stroke-linecap="round"/>
<line x1="1077.1" y1="1159.1" x2="1077.1" y2="1216.5" stroke="#000" stroke-width="2.6" stroke-linecap="butt"/>
<line x1="1062.8" y1="1159.1" x2="1092" y2="1159.1" stroke="#000" stroke-width="2.6" stroke-linecap="round"/>
<line x1="1062.8" y1="1216.5" x2="1092" y2="1216.5" stroke="#000" stroke-width="2.6" stroke-linecap="round"/>
<circle cx="984.3" cy="1229" r="5.2" fill="#000"/>
<circle cx="1001.3" cy="1236.9" r="5.2" fill="#000"/>
<circle cx="993.2" cy="1266.1" r="5.2" fill="#000"/>
<rect x="1071.85" y="1145.25" width="10.5" height="10.5" fill="#000"/>
<rect x="1062.95" y="1157.15" width="10.5" height="10.5" fill="#000"/>
<rect x="1080.05" y="1173.35" width="10.5" height="10.5" fill="#000"/>
<rect x="1054.85" y="1199.95" width="10.5" height="10.5" fill="#000"/>
<rect x="1088.95" y="1205.85" width="10.5" height="10.5" fill="#000"/>
<rect x="1071.85" y="1216.75" width="10.5" height="10.5" fill="#000"/>
<text x="977.03" y="1077" font-size="25.1" font-weight="bold" textLength="137.65" lengthAdjust="spacingAndGlyphs">Spleen-LSK</text>
<text x="971.26" y="1136.8" font-size="24.23" textLength="73.38" lengthAdjust="spacingAndGlyphs">P=0.02</text>
<text transform="translate(900.88,0) rotate(-90)" x="-1360.29" y="0" font-size="22.04" textLength="216.79" lengthAdjust="spacingAndGlyphs">% of BrdU+ LSK cells</text>
<line x1="1227.1" y1="1099.5" x2="1227.1" y2="1381.6" stroke="#000" stroke-width="4" stroke-linecap="butt"/>
<line x1="1225.1" y1="1379.6" x2="1395.7" y2="1379.6" stroke="#000" stroke-width="4" stroke-linecap="butt"/>
<line x1="1217.1" y1="1379.6" x2="1227.1" y2="1379.6" stroke="#000" stroke-width="3.2" stroke-linecap="butt"/>
<text x="1193.29" y="1386.99" font-size="21.5" font-weight="bold" textLength="22" lengthAdjust="spacingAndGlyphs">40</text>
<line x1="1217.1" y1="1323.86" x2="1227.1" y2="1323.86" stroke="#000" stroke-width="3.2" stroke-linecap="butt"/>
<text x="1193.04" y="1331.14" font-size="21.5" font-weight="bold" textLength="22" lengthAdjust="spacingAndGlyphs">45</text>
<line x1="1217.1" y1="1268.12" x2="1227.1" y2="1268.12" stroke="#000" stroke-width="3.2" stroke-linecap="butt"/>
<text x="1193.29" y="1275.51" font-size="21.5" font-weight="bold" textLength="22" lengthAdjust="spacingAndGlyphs">50</text>
<line x1="1217.1" y1="1212.38" x2="1227.1" y2="1212.38" stroke="#000" stroke-width="3.2" stroke-linecap="butt"/>
<text x="1193.04" y="1219.66" font-size="21.5" font-weight="bold" textLength="22" lengthAdjust="spacingAndGlyphs">55</text>
<line x1="1217.1" y1="1156.64" x2="1227.1" y2="1156.64" stroke="#000" stroke-width="3.2" stroke-linecap="butt"/>
<text x="1193.29" y="1164.03" font-size="21.5" font-weight="bold" textLength="22" lengthAdjust="spacingAndGlyphs">60</text>
<line x1="1217.1" y1="1100.9" x2="1227.1" y2="1100.9" stroke="#000" stroke-width="3.2" stroke-linecap="butt"/>
<text x="1193.04" y="1108.29" font-size="21.5" font-weight="bold" textLength="22" lengthAdjust="spacingAndGlyphs">65</text>
<line x1="1270.4" y1="1379.6" x2="1270.4" y2="1390.6" stroke="#000" stroke-width="3.2" stroke-linecap="butt"/>
<line x1="1354.3" y1="1379.6" x2="1354.3" y2="1390.6" stroke="#000" stroke-width="3.2" stroke-linecap="butt"/>
<text transform="translate(1268.07,1419.46) rotate(-45)" x="0" y="0" font-size="20.1" font-weight="bold" textLength="29.03" lengthAdjust="spacingAndGlyphs">Ctr</text>
<text transform="translate(1347.82,1416.91) rotate(-45)" x="0" y="0" font-size="20.1" font-weight="bold" textLength="24.56" lengthAdjust="spacingAndGlyphs">Tg</text>
<line x1="1242.3" y1="1219.9" x2="1297.5" y2="1219.9" stroke="#000" stroke-width="2.6" stroke-linecap="round"/>
<line x1="1270.4" y1="1173.9" x2="1270.4" y2="1265.9" stroke="#000" stroke-width="2.6" stroke-linecap="butt"/>
<line x1="1256.3" y1="1173.9" x2="1284.8" y2="1173.9" stroke="#000" stroke-width="2.6" stroke-linecap="round"/>
<line x1="1256.3" y1="1265.9" x2="1284.8" y2="1265.9" stroke="#000" stroke-width="2.6" stroke-linecap="round"/>
<line x1="1326.1" y1="1236.2" x2="1381.6" y2="1236.2" stroke="#000" stroke-width="2.6" stroke-linecap="round"/>
<line x1="1354.3" y1="1168" x2="1354.3" y2="1305.2" stroke="#000" stroke-width="2.6" stroke-linecap="butt"/>
<line x1="1340.2" y1="1168" x2="1369.2" y2="1168" stroke="#000" stroke-width="2.6" stroke-linecap="round"/>
<line x1="1340.2" y1="1305.2" x2="1369.2" y2="1305.2" stroke="#000" stroke-width="2.6" stroke-linecap="round"/>
<circle cx="1270.4" cy="1183.4" r="5.2" fill="#000"/>
<circle cx="1270.4" cy="1206.4" r="5.2" fill="#000"/>
<circle cx="1270.4" cy="1271.3" r="5.2" fill="#000"/>
<rect x="1349.05" y="1145.15" width="10.5" height="10.5" fill="#000"/>
<rect x="1332.25" y="1223.35" width="10.5" height="10.5" fill="#000"/>
<rect x="1366.05" y="1218.75" width="10.5" height="10.5" fill="#000"/>
<rect x="1349.05" y="1233.65" width="10.5" height="10.5" fill="#000"/>
<rect x="1349.05" y="1336.45" width="10.5" height="10.5" fill="#000"/>
<text x="1273.4" y="1072.9" font-size="26.76" font-weight="bold" textLength="79.36" lengthAdjust="spacingAndGlyphs">BM-LK</text>
<text transform="translate(1173.58,0) rotate(-90)" x="-1346.49" y="0" font-size="22.04" textLength="201.8" lengthAdjust="spacingAndGlyphs">% of BrdU+ LK cells</text>
<line x1="1476" y1="1099.5" x2="1476" y2="1381.6" stroke="#000" stroke-width="4" stroke-linecap="butt"/>
<line x1="1474" y1="1379.6" x2="1643.8" y2="1379.6" stroke="#000" stroke-width="4" stroke-linecap="butt"/>
<line x1="1465.8" y1="1379.6" x2="1476" y2="1379.6" stroke="#000" stroke-width="3.2" stroke-linecap="butt"/>
<text x="1452.96" y="1386.99" font-size="21.5" font-weight="bold" textLength="11" lengthAdjust="spacingAndGlyphs">0</text>
<line x1="1465.8" y1="1323.86" x2="1476" y2="1323.86" stroke="#000" stroke-width="3.2" stroke-linecap="butt"/>
<text x="1452.72" y="1331.14" font-size="21.5" font-weight="bold" textLength="11" lengthAdjust="spacingAndGlyphs">5</text>
<line x1="1465.8" y1="1268.12" x2="1476" y2="1268.12" stroke="#000" stroke-width="3.2" stroke-linecap="butt"/>
<text x="1441.99" y="1275.51" font-size="21.5" font-weight="bold" textLength="22" lengthAdjust="spacingAndGlyphs">10</text>
<line x1="1465.8" y1="1212.38" x2="1476" y2="1212.38" stroke="#000" stroke-width="3.2" stroke-linecap="butt"/>
<text x="1441.74" y="1219.66" font-size="21.5" font-weight="bold" textLength="22" lengthAdjust="spacingAndGlyphs">15</text>
<line x1="1465.8" y1="1156.64" x2="1476" y2="1156.64" stroke="#000" stroke-width="3.2" stroke-linecap="butt"/>
<text x="1441.99" y="1164.03" font-size="21.5" font-weight="bold" textLength="22" lengthAdjust="spacingAndGlyphs">20</text>
<line x1="1465.8" y1="1100.9" x2="1476" y2="1100.9" stroke="#000" stroke-width="3.2" stroke-linecap="butt"/>
<text x="1441.74" y="1108.29" font-size="21.5" font-weight="bold" textLength="22" lengthAdjust="spacingAndGlyphs">25</text>
<line x1="1518.5" y1="1379.6" x2="1518.5" y2="1390.6" stroke="#000" stroke-width="3.2" stroke-linecap="butt"/>
<line x1="1602.4" y1="1379.6" x2="1602.4" y2="1390.6" stroke="#000" stroke-width="3.2" stroke-linecap="butt"/>
<text transform="translate(1518.07,1422.46) rotate(-45)" x="0" y="0" font-size="20.1" font-weight="bold" textLength="29.03" lengthAdjust="spacingAndGlyphs">Ctr</text>
<text transform="translate(1598.02,1419.61) rotate(-45)" x="0" y="0" font-size="20.1" font-weight="bold" textLength="24.56" lengthAdjust="spacingAndGlyphs">Tg</text>
<line x1="1490.6" y1="1199.6" x2="1546.4" y2="1199.6" stroke="#000" stroke-width="2.6" stroke-linecap="round"/>
<line x1="1518.5" y1="1150.1" x2="1518.5" y2="1249.1" stroke="#000" stroke-width="2.6" stroke-linecap="butt"/>
<line x1="1503.6" y1="1150.1" x2="1532.9" y2="1150.1" stroke="#000" stroke-width="2.6" stroke-linecap="round"/>
<line x1="1503.6" y1="1249.1" x2="1532.9" y2="1249.1" stroke="#000" stroke-width="2.6" stroke-linecap="round"/>
<line x1="1575.3" y1="1212.3" x2="1630.3" y2="1212.3" stroke="#000" stroke-width="2.6" stroke-linecap="round"/>
<line x1="1602.4" y1="1179.9" x2="1602.4" y2="1245.1" stroke="#000" stroke-width="2.6" stroke-linecap="butt"/>
<line x1="1587.5" y1="1179.9" x2="1617.3" y2="1179.9" stroke="#000" stroke-width="2.6" stroke-linecap="round"/>
<line x1="1587.5" y1="1245.1" x2="1617.3" y2="1245.1" stroke="#000" stroke-width="2.6" stroke-linecap="round"/>
<circle cx="1518.5" cy="1151.5" r="5.2" fill="#000"/>
<circle cx="1518.5" cy="1196.4" r="5.2" fill="#000"/>
<circle cx="1518.5" cy="1251" r="5.2" fill="#000"/>
<rect x="1597.15" y="1174.05" width="10.5" height="10.5" fill="#000"/>
<rect x="1605.85" y="1188.15" width="10.5" height="10.5" fill="#000"/>
<rect x="1588.25" y="1197.65" width="10.5" height="10.5" fill="#000"/>
<rect x="1597.15" y="1219.55" width="10.5" height="10.5" fill="#000"/>
<rect x="1597.15" y="1257.95" width="10.5" height="10.5" fill="#000"/>
<text x="1517.1" y="1073" font-size="26.24" font-weight="bold" textLength="95.8" lengthAdjust="spacingAndGlyphs">BM-LSK</text>
<text transform="translate(1428.96,0) rotate(-90)" x="-1357.4" y="0" font-size="23.95" textLength="218.1" lengthAdjust="spacingAndGlyphs">% of BrdU+ LSK cells</text>
</svg>
</body></html>
